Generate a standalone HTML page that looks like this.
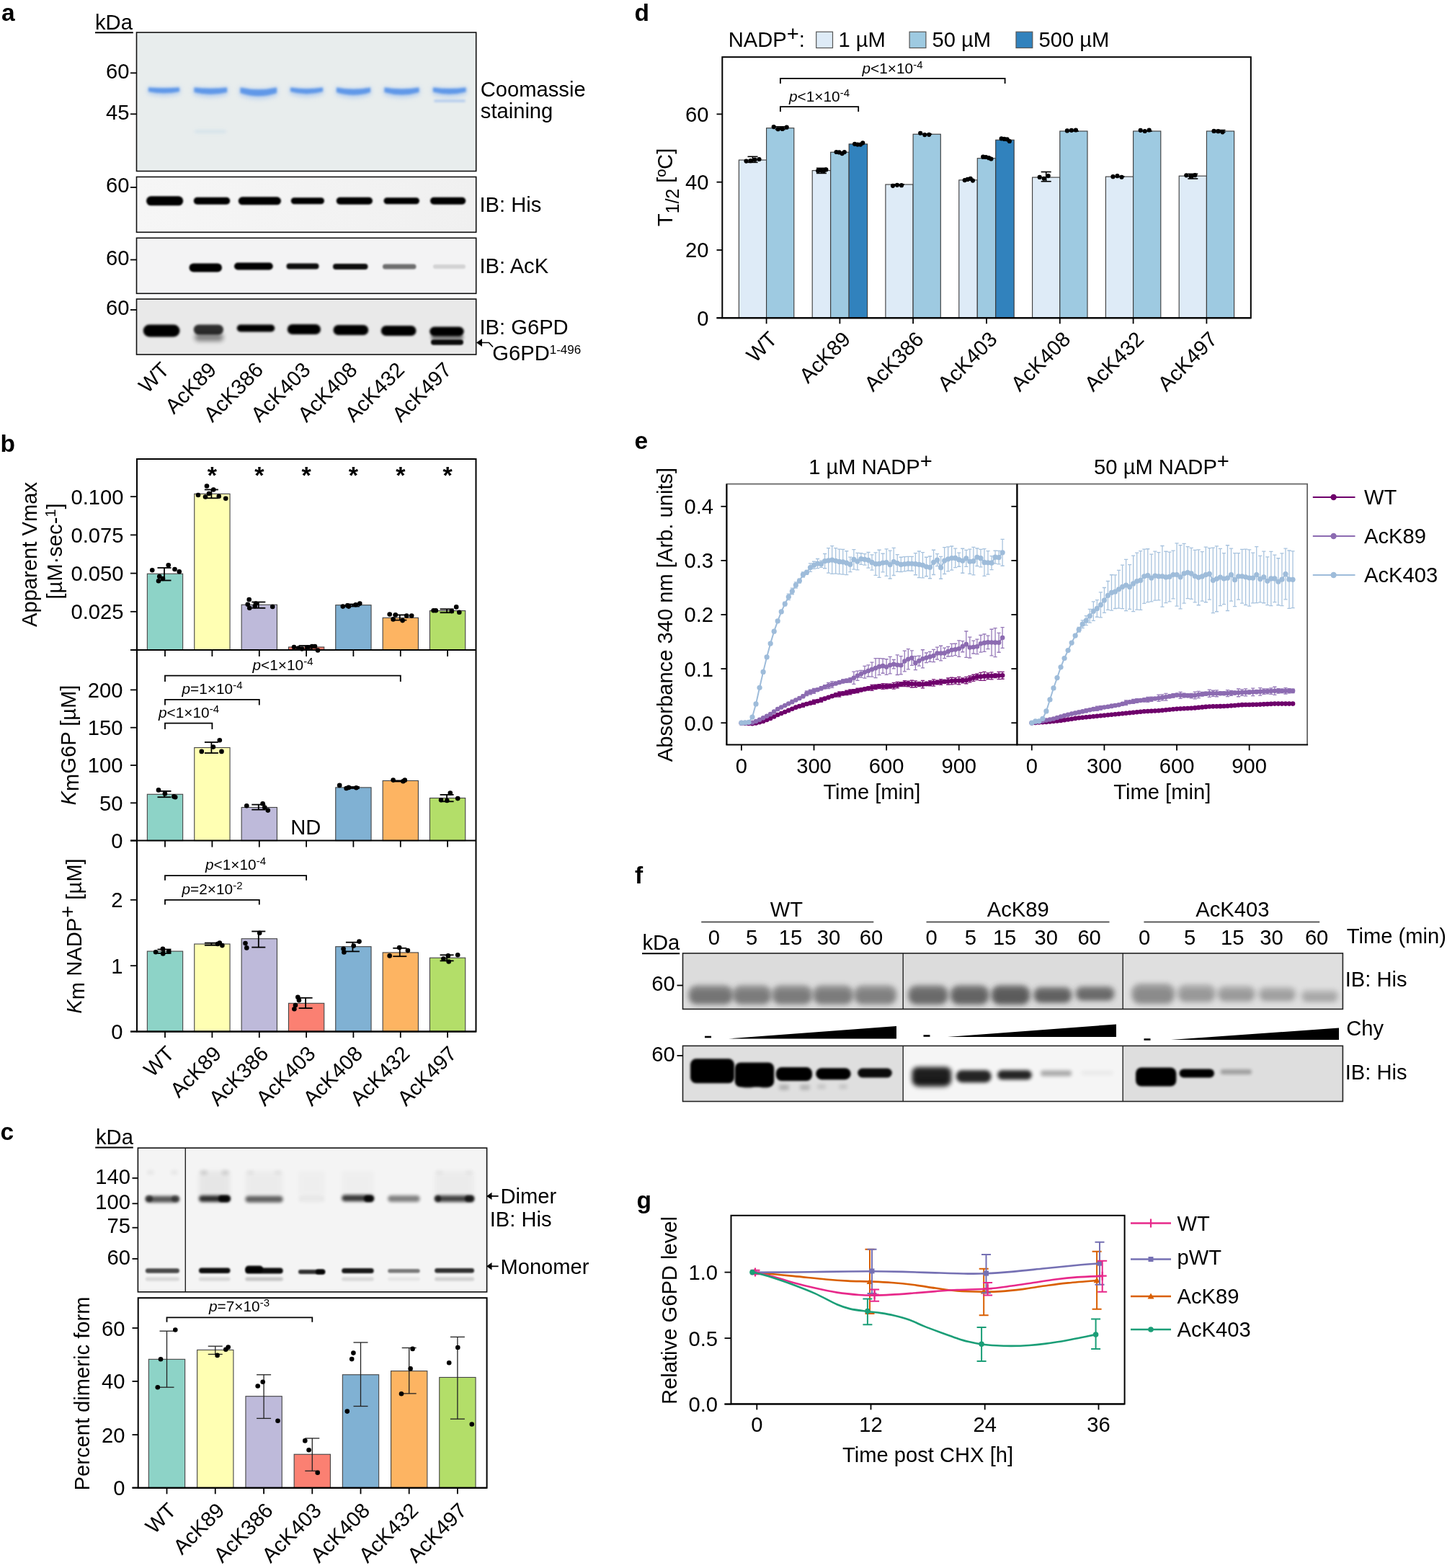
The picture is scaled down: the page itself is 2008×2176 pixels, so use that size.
<!DOCTYPE html>
<html><head><meta charset="utf-8"><style>
html,body{margin:0;padding:0;background:#fff;}
svg{display:block;}
text{font-family:'Liberation Sans', Arial, Helvetica, sans-serif;}
</style></head><body>
<svg width="2008" height="2176" viewBox="0 0 2008 2176">
<defs><filter id="b12" x="-50%" y="-300%" width="200%" height="700%"><feGaussianBlur stdDeviation="1.2"/></filter><filter id="b13" x="-50%" y="-300%" width="200%" height="700%"><feGaussianBlur stdDeviation="1.3"/></filter><filter id="b14" x="-50%" y="-300%" width="200%" height="700%"><feGaussianBlur stdDeviation="1.4"/></filter><filter id="b15" x="-50%" y="-300%" width="200%" height="700%"><feGaussianBlur stdDeviation="1.5"/></filter><filter id="b16" x="-50%" y="-300%" width="200%" height="700%"><feGaussianBlur stdDeviation="1.6"/></filter><filter id="b18" x="-50%" y="-300%" width="200%" height="700%"><feGaussianBlur stdDeviation="1.8"/></filter><filter id="b20" x="-50%" y="-300%" width="200%" height="700%"><feGaussianBlur stdDeviation="2.0"/></filter><filter id="b22" x="-50%" y="-300%" width="200%" height="700%"><feGaussianBlur stdDeviation="2.2"/></filter><filter id="b25" x="-50%" y="-300%" width="200%" height="700%"><feGaussianBlur stdDeviation="2.5"/></filter><filter id="b28" x="-50%" y="-300%" width="200%" height="700%"><feGaussianBlur stdDeviation="2.8"/></filter><filter id="b30" x="-50%" y="-300%" width="200%" height="700%"><feGaussianBlur stdDeviation="3.0"/></filter><filter id="b32" x="-50%" y="-300%" width="200%" height="700%"><feGaussianBlur stdDeviation="3.2"/></filter><filter id="b35" x="-50%" y="-300%" width="200%" height="700%"><feGaussianBlur stdDeviation="3.5"/></filter><filter id="b40" x="-50%" y="-300%" width="200%" height="700%"><feGaussianBlur stdDeviation="4.0"/></filter><linearGradient id="gHis" x1="0" y1="0" x2="1" y2="0"><stop offset="0" stop-color="#f6f6f6"/><stop offset="1" stop-color="#f0f0f0"/></linearGradient></defs>
<text x="2.00" y="28.70" font-size="33.5" font-weight="bold">a</text>
<text x="132.00" y="40.80" font-size="29.17">kDa</text>
<line x1="132.00" y1="45.20" x2="184.80" y2="45.20" stroke="#000" stroke-width="1.9"/>
<rect x="189.50" y="45.00" width="471.20" height="192.50" fill="#e8eded"/>
<path d="M205.0,120.5 Q227.5,123.0 250.0,120.5 L250.0,130.0 Q227.5,136.5 205.0,130.0 Z" fill="#8fb6ee" opacity="0.55" filter="url(#b30)"/>
<path d="M206.0,121.5 Q227.5,123.0 249.0,121.5 L249.0,127.0 Q227.5,131.5 206.0,127.0 Z" fill="#5b95e8" opacity="0.95" filter="url(#b15)"/>
<path d="M268.5,120.5 Q292.2,124.0 316.0,120.5 L316.0,131.0 Q292.2,138.5 268.5,131.0 Z" fill="#8fb6ee" opacity="0.55" filter="url(#b30)"/>
<path d="M269.5,121.5 Q292.2,124.0 315.0,121.5 L315.0,128.0 Q292.2,133.5 269.5,128.0 Z" fill="#5b95e8" opacity="0.95" filter="url(#b15)"/>
<path d="M332.5,120.5 Q358.8,127.0 385.0,120.5 L385.0,132.0 Q358.8,142.5 332.5,132.0 Z" fill="#8fb6ee" opacity="0.55" filter="url(#b30)"/>
<path d="M333.5,121.5 Q358.8,127.0 384.0,121.5 L384.0,129.0 Q358.8,137.5 333.5,129.0 Z" fill="#5b95e8" opacity="0.95" filter="url(#b15)"/>
<path d="M402.0,120.5 Q425.5,125.0 449.0,120.5 L449.0,130.0 Q425.5,138.5 402.0,130.0 Z" fill="#8fb6ee" opacity="0.55" filter="url(#b30)"/>
<path d="M403.0,121.5 Q425.5,125.0 448.0,121.5 L448.0,127.0 Q425.5,133.5 403.0,127.0 Z" fill="#5b95e8" opacity="0.95" filter="url(#b15)"/>
<path d="M466.0,120.5 Q490.5,126.0 515.0,120.5 L515.0,131.0 Q490.5,140.5 466.0,131.0 Z" fill="#8fb6ee" opacity="0.55" filter="url(#b30)"/>
<path d="M467.0,121.5 Q490.5,126.0 514.0,121.5 L514.0,128.0 Q490.5,135.5 467.0,128.0 Z" fill="#5b95e8" opacity="0.95" filter="url(#b15)"/>
<path d="M532.5,120.5 Q557.5,125.5 582.5,120.5 L582.5,131.0 Q557.5,140.0 532.5,131.0 Z" fill="#8fb6ee" opacity="0.55" filter="url(#b30)"/>
<path d="M533.5,121.5 Q557.5,125.5 581.5,121.5 L581.5,128.0 Q557.5,135.0 533.5,128.0 Z" fill="#5b95e8" opacity="0.95" filter="url(#b15)"/>
<path d="M600.0,120.5 Q623.8,124.5 647.5,120.5 L647.5,130.5 Q623.8,138.5 600.0,130.5 Z" fill="#8fb6ee" opacity="0.55" filter="url(#b30)"/>
<path d="M601.0,121.5 Q623.8,124.5 646.5,121.5 L646.5,127.5 Q623.8,133.5 601.0,127.5 Z" fill="#5b95e8" opacity="0.95" filter="url(#b15)"/>
<rect x="602.00" y="138.00" width="44.00" height="4.00" rx="2.00" fill="#9bbcee" opacity="0.6" filter="url(#b15)"/>
<rect x="270.00" y="180.50" width="44.00" height="4.00" rx="2.00" fill="#c5dbe9" opacity="0.6" filter="url(#b20)"/>
<rect x="189.50" y="45.00" width="471.20" height="192.50" fill="none" stroke="#111" stroke-width="1.6"/>
<text x="179.50" y="108.70" font-size="29.17" text-anchor="end">60</text>
<line x1="181.00" y1="101.30" x2="189.50" y2="101.30" stroke="#000" stroke-width="1.8"/>
<text x="179.50" y="165.70" font-size="29.17" text-anchor="end">45</text>
<line x1="181.00" y1="158.30" x2="189.50" y2="158.30" stroke="#000" stroke-width="1.8"/>
<text x="666.80" y="134.20" font-size="29.17">Coomassie</text>
<text x="666.80" y="163.80" font-size="29.17">staining</text>
<rect x="189.5" y="245.5" width="471.2" height="76.8" fill="url(#gHis)"/>
<rect x="203.00" y="272.30" width="51.25" height="13.00" rx="6.50" fill="#000" opacity="1.0" filter="url(#b12)"/>
<rect x="268.75" y="273.80" width="50.50" height="10.00" rx="5.00" fill="#000" opacity="1.0" filter="url(#b12)"/>
<rect x="330.75" y="273.30" width="59.25" height="11.00" rx="5.50" fill="#000" opacity="1.0" filter="url(#b12)"/>
<rect x="403.75" y="274.30" width="46.25" height="9.00" rx="4.50" fill="#000" opacity="1.0" filter="url(#b12)"/>
<rect x="466.75" y="273.80" width="50.25" height="10.00" rx="5.00" fill="#000" opacity="1.0" filter="url(#b12)"/>
<rect x="532.50" y="274.30" width="49.50" height="9.00" rx="4.50" fill="#000" opacity="1.0" filter="url(#b12)"/>
<rect x="597.00" y="273.80" width="49.25" height="10.00" rx="5.00" fill="#000" opacity="1.0" filter="url(#b12)"/>
<rect x="189.50" y="245.50" width="471.20" height="76.80" fill="none" stroke="#111" stroke-width="1.6"/>
<text x="179.50" y="267.40" font-size="29.17" text-anchor="end">60</text>
<line x1="181.00" y1="260.00" x2="189.50" y2="260.00" stroke="#000" stroke-width="1.8"/>
<text x="665.50" y="294.30" font-size="29.17">IB: His</text>
<rect x="189.50" y="330.30" width="471.20" height="77.00" fill="#f3f3f4"/>
<rect x="262.50" y="365.50" width="45.50" height="12.00" rx="6.00" fill="#000" opacity="1.0" filter="url(#b13)"/>
<rect x="325.00" y="364.50" width="53.75" height="10.00" rx="5.00" fill="#000" opacity="1.0" filter="url(#b13)"/>
<rect x="397.50" y="365.50" width="45.00" height="8.00" rx="4.00" fill="#000" opacity="0.95" filter="url(#b13)"/>
<rect x="462.00" y="366.00" width="48.50" height="8.00" rx="4.00" fill="#000" opacity="0.95" filter="url(#b13)"/>
<rect x="531.00" y="366.50" width="46.50" height="7.00" rx="3.50" fill="#000" opacity="0.55" filter="url(#b13)"/>
<rect x="601.00" y="367.00" width="45.00" height="6.00" rx="3.00" fill="#000" opacity="0.13" filter="url(#b13)"/>
<rect x="189.50" y="330.30" width="471.20" height="77.00" fill="none" stroke="#111" stroke-width="1.6"/>
<text x="179.50" y="367.90" font-size="29.17" text-anchor="end">60</text>
<line x1="181.00" y1="360.50" x2="189.50" y2="360.50" stroke="#000" stroke-width="1.8"/>
<text x="665.50" y="379.30" font-size="29.17">IB: AcK</text>
<rect x="189.50" y="415.00" width="471.20" height="77.00" fill="#e9e9e9"/>
<rect x="198.75" y="450.50" width="50.75" height="17.00" rx="8.50" fill="#000" opacity="1.0" filter="url(#b15)"/>
<rect x="268.75" y="450.50" width="41.25" height="14.00" rx="7.00" fill="#000" opacity="0.8" filter="url(#b15)"/>
<rect x="328.75" y="450.50" width="52.50" height="10.00" rx="5.00" fill="#000" opacity="1.0" filter="url(#b15)"/>
<rect x="398.75" y="450.00" width="46.25" height="14.00" rx="7.00" fill="#000" opacity="1.0" filter="url(#b15)"/>
<rect x="462.50" y="451.00" width="48.75" height="14.00" rx="7.00" fill="#000" opacity="1.0" filter="url(#b15)"/>
<rect x="528.75" y="452.00" width="48.75" height="14.00" rx="7.00" fill="#000" opacity="1.0" filter="url(#b15)"/>
<rect x="596.25" y="453.50" width="47.50" height="13.00" rx="6.50" fill="#000" opacity="1.0" filter="url(#b15)"/>
<rect x="270.00" y="462.50" width="40.00" height="11.00" rx="5.50" fill="#000" opacity="0.45" filter="url(#b30)"/>
<rect x="598.00" y="471.25" width="45.00" height="7.50" rx="3.75" fill="#000" opacity="0.95" filter="url(#b12)"/>
<rect x="598.00" y="464.00" width="45.00" height="8.00" rx="4.00" fill="#000" opacity="0.45" filter="url(#b20)"/>
<rect x="189.50" y="415.00" width="471.20" height="77.00" fill="none" stroke="#111" stroke-width="1.6"/>
<text x="179.50" y="437.40" font-size="29.17" text-anchor="end">60</text>
<line x1="181.00" y1="430.00" x2="189.50" y2="430.00" stroke="#000" stroke-width="1.8"/>
<text x="665.50" y="464.20" font-size="29.17">IB: G6PD</text>
<text x="683.30" y="500.40" font-size="29.17">G6PD<tspan font-size="17" dy="-9.8">1-496</tspan></text>
<path d="M667,475.5 H678.5 L684,481.5" stroke="#000" stroke-width="1.7" fill="none"/>
<path d="M661,475.5 L669,470.1 L669,480.9 Z" fill="#000"/>
<text x="236.50" y="515.00" font-size="29.17" text-anchor="end" transform="rotate(-45 236.50 515.00)">WT</text>
<text x="302.00" y="515.00" font-size="29.17" text-anchor="end" transform="rotate(-45 302.00 515.00)">AcK89</text>
<text x="367.00" y="515.00" font-size="29.17" text-anchor="end" transform="rotate(-45 367.00 515.00)">AcK386</text>
<text x="432.50" y="515.00" font-size="29.17" text-anchor="end" transform="rotate(-45 432.50 515.00)">AcK403</text>
<text x="497.50" y="515.00" font-size="29.17" text-anchor="end" transform="rotate(-45 497.50 515.00)">AcK408</text>
<text x="563.00" y="515.00" font-size="29.17" text-anchor="end" transform="rotate(-45 563.00 515.00)">AcK432</text>
<text x="628.50" y="515.00" font-size="29.17" text-anchor="end" transform="rotate(-45 628.50 515.00)">AcK497</text>
<text x="0.50" y="627.30" font-size="33.5" font-weight="bold">b</text>
<rect x="204.35" y="796.24" width="49.30" height="105.76" fill="#8dd3c7" stroke="#444" stroke-width="1.1"/>
<rect x="269.75" y="685.37" width="49.30" height="216.63" fill="#ffffb3" stroke="#444" stroke-width="1.1"/>
<rect x="335.15" y="839.22" width="49.30" height="62.78" fill="#bebada" stroke="#444" stroke-width="1.1"/>
<rect x="400.45" y="897.96" width="49.30" height="4.04" fill="#fb8072" stroke="#444" stroke-width="1.1"/>
<rect x="465.75" y="839.65" width="49.30" height="62.35" fill="#80b1d3" stroke="#444" stroke-width="1.1"/>
<rect x="531.15" y="857.31" width="49.30" height="44.69" fill="#fdb462" stroke="#444" stroke-width="1.1"/>
<rect x="596.45" y="847.52" width="49.30" height="54.48" fill="#b3de69" stroke="#444" stroke-width="1.1"/>
<line x1="228.00" y1="788.00" x2="228.00" y2="805.50" stroke="#000" stroke-width="1.8"/>
<line x1="218.50" y1="788.00" x2="237.50" y2="788.00" stroke="#000" stroke-width="1.8"/>
<line x1="218.50" y1="805.50" x2="237.50" y2="805.50" stroke="#000" stroke-width="1.8"/>
<line x1="293.40" y1="679.50" x2="293.40" y2="691.30" stroke="#000" stroke-width="1.8"/>
<line x1="283.90" y1="679.50" x2="302.90" y2="679.50" stroke="#000" stroke-width="1.8"/>
<line x1="283.90" y1="691.30" x2="302.90" y2="691.30" stroke="#000" stroke-width="1.8"/>
<line x1="358.80" y1="835.50" x2="358.80" y2="843.80" stroke="#000" stroke-width="1.8"/>
<line x1="349.30" y1="835.50" x2="368.30" y2="835.50" stroke="#000" stroke-width="1.8"/>
<line x1="349.30" y1="843.80" x2="368.30" y2="843.80" stroke="#000" stroke-width="1.8"/>
<line x1="424.10" y1="896.00" x2="424.10" y2="901.00" stroke="#000" stroke-width="1.8"/>
<line x1="414.60" y1="896.00" x2="433.60" y2="896.00" stroke="#000" stroke-width="1.8"/>
<line x1="414.60" y1="901.00" x2="433.60" y2="901.00" stroke="#000" stroke-width="1.8"/>
<line x1="489.40" y1="838.50" x2="489.40" y2="841.50" stroke="#000" stroke-width="1.8"/>
<line x1="479.90" y1="838.50" x2="498.90" y2="838.50" stroke="#000" stroke-width="1.8"/>
<line x1="479.90" y1="841.50" x2="498.90" y2="841.50" stroke="#000" stroke-width="1.8"/>
<line x1="554.80" y1="853.40" x2="554.80" y2="860.60" stroke="#000" stroke-width="1.8"/>
<line x1="545.30" y1="853.40" x2="564.30" y2="853.40" stroke="#000" stroke-width="1.8"/>
<line x1="545.30" y1="860.60" x2="564.30" y2="860.60" stroke="#000" stroke-width="1.8"/>
<line x1="620.10" y1="845.30" x2="620.10" y2="850.20" stroke="#000" stroke-width="1.8"/>
<line x1="610.60" y1="845.30" x2="629.60" y2="845.30" stroke="#000" stroke-width="1.8"/>
<line x1="610.60" y1="850.20" x2="629.60" y2="850.20" stroke="#000" stroke-width="1.8"/>
<circle cx="211.25" cy="791.25" r="3.3" fill="#000"/>
<circle cx="221.25" cy="800.00" r="3.3" fill="#000"/>
<circle cx="220.00" cy="806.25" r="3.3" fill="#000"/>
<circle cx="226.00" cy="803.00" r="3.3" fill="#000"/>
<circle cx="233.75" cy="784.25" r="3.3" fill="#000"/>
<circle cx="242.50" cy="790.00" r="3.3" fill="#000"/>
<circle cx="248.75" cy="793.25" r="3.3" fill="#000"/>
<circle cx="275.00" cy="687.00" r="3.3" fill="#000"/>
<circle cx="285.00" cy="689.50" r="3.3" fill="#000"/>
<circle cx="287.00" cy="674.50" r="3.3" fill="#000"/>
<circle cx="290.00" cy="685.00" r="3.3" fill="#000"/>
<circle cx="296.25" cy="679.50" r="3.3" fill="#000"/>
<circle cx="303.75" cy="688.75" r="3.3" fill="#000"/>
<circle cx="313.25" cy="691.75" r="3.3" fill="#000"/>
<circle cx="345.75" cy="832.00" r="3.3" fill="#000"/>
<circle cx="343.75" cy="838.75" r="3.3" fill="#000"/>
<circle cx="346.25" cy="843.75" r="3.3" fill="#000"/>
<circle cx="353.75" cy="841.25" r="3.3" fill="#000"/>
<circle cx="355.00" cy="837.50" r="3.3" fill="#000"/>
<circle cx="378.25" cy="842.00" r="3.3" fill="#000"/>
<circle cx="408.00" cy="898.00" r="3.3" fill="#000"/>
<circle cx="414.00" cy="899.50" r="3.3" fill="#000"/>
<circle cx="419.00" cy="900.50" r="3.3" fill="#000"/>
<circle cx="427.00" cy="898.50" r="3.3" fill="#000"/>
<circle cx="433.00" cy="897.00" r="3.3" fill="#000"/>
<circle cx="437.00" cy="897.00" r="3.3" fill="#000"/>
<circle cx="441.00" cy="902.50" r="3.3" fill="#000"/>
<circle cx="475.80" cy="841.60" r="3.3" fill="#000"/>
<circle cx="482.30" cy="840.40" r="3.3" fill="#000"/>
<circle cx="483.90" cy="841.60" r="3.3" fill="#000"/>
<circle cx="493.60" cy="839.20" r="3.3" fill="#000"/>
<circle cx="499.30" cy="837.60" r="3.3" fill="#000"/>
<circle cx="540.70" cy="852.50" r="3.3" fill="#000"/>
<circle cx="548.80" cy="853.40" r="3.3" fill="#000"/>
<circle cx="545.60" cy="859.40" r="3.3" fill="#000"/>
<circle cx="558.60" cy="861.10" r="3.3" fill="#000"/>
<circle cx="564.30" cy="854.60" r="3.3" fill="#000"/>
<circle cx="571.20" cy="854.60" r="3.3" fill="#000"/>
<circle cx="601.60" cy="847.30" r="3.3" fill="#000"/>
<circle cx="604.80" cy="847.30" r="3.3" fill="#000"/>
<circle cx="633.20" cy="842.40" r="3.3" fill="#000"/>
<circle cx="637.30" cy="849.70" r="3.3" fill="#000"/>
<circle cx="626.80" cy="848.10" r="3.3" fill="#000"/>
<text x="171.50" y="699.80" font-size="29.17" text-anchor="end">0.100</text>
<line x1="181.00" y1="689.20" x2="190.00" y2="689.20" stroke="#000" stroke-width="1.8"/>
<text x="171.50" y="753.00" font-size="29.17" text-anchor="end">0.075</text>
<line x1="181.00" y1="742.40" x2="190.00" y2="742.40" stroke="#000" stroke-width="1.8"/>
<text x="171.50" y="806.20" font-size="29.17" text-anchor="end">0.050</text>
<line x1="181.00" y1="795.60" x2="190.00" y2="795.60" stroke="#000" stroke-width="1.8"/>
<text x="171.50" y="859.40" font-size="29.17" text-anchor="end">0.025</text>
<line x1="181.00" y1="848.80" x2="190.00" y2="848.80" stroke="#000" stroke-width="1.8"/>
<line x1="181.00" y1="902.00" x2="660.50" y2="902.00" stroke="#000" stroke-width="2"/>
<text x="294.40" y="670.50" font-size="34" text-anchor="middle" font-weight="bold">*</text>
<text x="359.80" y="670.50" font-size="34" text-anchor="middle" font-weight="bold">*</text>
<text x="425.10" y="670.50" font-size="34" text-anchor="middle" font-weight="bold">*</text>
<text x="490.40" y="670.50" font-size="34" text-anchor="middle" font-weight="bold">*</text>
<text x="555.80" y="670.50" font-size="34" text-anchor="middle" font-weight="bold">*</text>
<text x="621.10" y="670.50" font-size="34" text-anchor="middle" font-weight="bold">*</text>
<text x="51.00" y="769.50" font-size="29.17" text-anchor="middle" transform="rotate(-90 51.00 769.50)">Apparent Vmax</text>
<text x="86.00" y="765.00" font-size="29.17" text-anchor="middle" transform="rotate(-90 86.00 765.00)">[µM·sec-<tspan dy="-9" font-size="20">1</tspan><tspan dy="9">]</tspan></text>
<rect x="204.35" y="1102.27" width="49.30" height="64.33" fill="#8dd3c7" stroke="#444" stroke-width="1.1"/>
<rect x="269.75" y="1037.52" width="49.30" height="129.08" fill="#ffffb3" stroke="#444" stroke-width="1.1"/>
<rect x="335.15" y="1120.47" width="49.30" height="46.13" fill="#bebada" stroke="#444" stroke-width="1.1"/>
<rect x="465.75" y="1092.86" width="49.30" height="73.74" fill="#80b1d3" stroke="#444" stroke-width="1.1"/>
<rect x="531.15" y="1083.44" width="49.30" height="83.16" fill="#fdb462" stroke="#444" stroke-width="1.1"/>
<rect x="596.45" y="1107.50" width="49.30" height="59.10" fill="#b3de69" stroke="#444" stroke-width="1.1"/>
<line x1="228.00" y1="1097.90" x2="228.00" y2="1106.25" stroke="#000" stroke-width="1.8"/>
<line x1="218.50" y1="1097.90" x2="237.50" y2="1097.90" stroke="#000" stroke-width="1.8"/>
<line x1="218.50" y1="1106.25" x2="237.50" y2="1106.25" stroke="#000" stroke-width="1.8"/>
<line x1="293.40" y1="1030.00" x2="293.40" y2="1045.00" stroke="#000" stroke-width="1.8"/>
<line x1="283.90" y1="1030.00" x2="302.90" y2="1030.00" stroke="#000" stroke-width="1.8"/>
<line x1="283.90" y1="1045.00" x2="302.90" y2="1045.00" stroke="#000" stroke-width="1.8"/>
<line x1="358.80" y1="1116.60" x2="358.80" y2="1123.60" stroke="#000" stroke-width="1.8"/>
<line x1="349.30" y1="1116.60" x2="368.30" y2="1116.60" stroke="#000" stroke-width="1.8"/>
<line x1="349.30" y1="1123.60" x2="368.30" y2="1123.60" stroke="#000" stroke-width="1.8"/>
<line x1="489.40" y1="1092.00" x2="489.40" y2="1094.00" stroke="#000" stroke-width="1.8"/>
<line x1="479.90" y1="1092.00" x2="498.90" y2="1092.00" stroke="#000" stroke-width="1.8"/>
<line x1="479.90" y1="1094.00" x2="498.90" y2="1094.00" stroke="#000" stroke-width="1.8"/>
<line x1="554.80" y1="1083.40" x2="554.80" y2="1084.50" stroke="#000" stroke-width="1.8"/>
<line x1="545.30" y1="1083.40" x2="564.30" y2="1083.40" stroke="#000" stroke-width="1.8"/>
<line x1="545.30" y1="1084.50" x2="564.30" y2="1084.50" stroke="#000" stroke-width="1.8"/>
<line x1="620.10" y1="1102.90" x2="620.10" y2="1112.30" stroke="#000" stroke-width="1.8"/>
<line x1="610.60" y1="1102.90" x2="629.60" y2="1102.90" stroke="#000" stroke-width="1.8"/>
<line x1="610.60" y1="1112.30" x2="629.60" y2="1112.30" stroke="#000" stroke-width="1.8"/>
<circle cx="220.00" cy="1096.40" r="3.3" fill="#000"/>
<circle cx="228.90" cy="1101.40" r="3.3" fill="#000"/>
<circle cx="241.40" cy="1105.40" r="3.3" fill="#000"/>
<circle cx="243.20" cy="1106.25" r="3.3" fill="#000"/>
<circle cx="279.80" cy="1042.90" r="3.3" fill="#000"/>
<circle cx="295.90" cy="1036.60" r="3.3" fill="#000"/>
<circle cx="304.80" cy="1027.30" r="3.3" fill="#000"/>
<circle cx="307.50" cy="1042.90" r="3.3" fill="#000"/>
<circle cx="342.30" cy="1118.20" r="3.3" fill="#000"/>
<circle cx="364.60" cy="1115.20" r="3.3" fill="#000"/>
<circle cx="367.30" cy="1120.50" r="3.3" fill="#000"/>
<circle cx="371.80" cy="1124.60" r="3.3" fill="#000"/>
<circle cx="471.20" cy="1089.90" r="3.3" fill="#000"/>
<circle cx="480.60" cy="1094.00" r="3.3" fill="#000"/>
<circle cx="483.90" cy="1092.90" r="3.3" fill="#000"/>
<circle cx="494.40" cy="1093.20" r="3.3" fill="#000"/>
<circle cx="545.60" cy="1082.60" r="3.3" fill="#000"/>
<circle cx="559.40" cy="1084.30" r="3.3" fill="#000"/>
<circle cx="561.80" cy="1082.60" r="3.3" fill="#000"/>
<circle cx="612.10" cy="1110.20" r="3.3" fill="#000"/>
<circle cx="620.30" cy="1111.00" r="3.3" fill="#000"/>
<circle cx="624.80" cy="1100.50" r="3.3" fill="#000"/>
<circle cx="635.20" cy="1108.10" r="3.3" fill="#000"/>
<text x="170.50" y="967.80" font-size="29.17" text-anchor="end">200</text>
<line x1="181.00" y1="957.40" x2="190.00" y2="957.40" stroke="#000" stroke-width="1.8"/>
<text x="170.50" y="1020.10" font-size="29.17" text-anchor="end">150</text>
<line x1="181.00" y1="1009.70" x2="190.00" y2="1009.70" stroke="#000" stroke-width="1.8"/>
<text x="170.50" y="1072.40" font-size="29.17" text-anchor="end">100</text>
<line x1="181.00" y1="1062.00" x2="190.00" y2="1062.00" stroke="#000" stroke-width="1.8"/>
<text x="170.50" y="1124.70" font-size="29.17" text-anchor="end">50</text>
<line x1="181.00" y1="1114.30" x2="190.00" y2="1114.30" stroke="#000" stroke-width="1.8"/>
<text x="170.50" y="1177.00" font-size="29.17" text-anchor="end">0</text>
<line x1="181.00" y1="1166.60" x2="190.00" y2="1166.60" stroke="#000" stroke-width="1.8"/>
<line x1="181.00" y1="1166.60" x2="660.50" y2="1166.60" stroke="#000" stroke-width="2"/>
<line x1="229.00" y1="902.00" x2="229.00" y2="911.00" stroke="#000" stroke-width="1.8"/>
<line x1="294.40" y1="902.00" x2="294.40" y2="911.00" stroke="#000" stroke-width="1.8"/>
<line x1="359.80" y1="902.00" x2="359.80" y2="911.00" stroke="#000" stroke-width="1.8"/>
<line x1="425.10" y1="902.00" x2="425.10" y2="911.00" stroke="#000" stroke-width="1.8"/>
<line x1="490.40" y1="902.00" x2="490.40" y2="911.00" stroke="#000" stroke-width="1.8"/>
<line x1="555.80" y1="902.00" x2="555.80" y2="911.00" stroke="#000" stroke-width="1.8"/>
<line x1="621.10" y1="902.00" x2="621.10" y2="911.00" stroke="#000" stroke-width="1.8"/>
<text x="424.30" y="1157.80" font-size="29.17" text-anchor="middle">ND</text>
<path d="M229.00,1012.10 V1003.60 H294.40 V1012.10" fill="none" stroke="#000" stroke-width="1.8"/>
<text x="262.00" y="996.40" font-size="20.83" text-anchor="middle"><tspan font-style="italic">p</tspan>&lt;1×10<tspan dy="-7" font-size="15.0">-4</tspan></text>
<path d="M229.00,978.60 V970.90 H359.80 V978.60" fill="none" stroke="#000" stroke-width="1.8"/>
<text x="294.50" y="963.40" font-size="20.83" text-anchor="middle"><tspan font-style="italic">p</tspan>=1×10<tspan dy="-7" font-size="15.0">-4</tspan></text>
<path d="M229.00,946.10 V937.60 H555.80 V946.10" fill="none" stroke="#000" stroke-width="1.8"/>
<text x="392.50" y="930.40" font-size="20.83" text-anchor="middle"><tspan font-style="italic">p</tspan>&lt;1×10<tspan dy="-7" font-size="15.0">-4</tspan></text>
<text x="105.00" y="1034.00" font-size="29.17" text-anchor="middle" transform="rotate(-90 105.00 1034.00)"><tspan font-style="italic">K</tspan><tspan dy="4.3">m</tspan><tspan dy="-4.3">G6P [µM]</tspan></text>
<rect x="204.35" y="1320.09" width="49.30" height="111.51" fill="#8dd3c7" stroke="#444" stroke-width="1.1"/>
<rect x="269.75" y="1310.04" width="49.30" height="121.56" fill="#ffffb3" stroke="#444" stroke-width="1.1"/>
<rect x="335.15" y="1302.73" width="49.30" height="128.87" fill="#bebada" stroke="#444" stroke-width="1.1"/>
<rect x="400.45" y="1392.30" width="49.30" height="39.30" fill="#fb8072" stroke="#444" stroke-width="1.1"/>
<rect x="465.75" y="1313.69" width="49.30" height="117.91" fill="#80b1d3" stroke="#444" stroke-width="1.1"/>
<rect x="531.15" y="1321.92" width="49.30" height="109.68" fill="#fdb462" stroke="#444" stroke-width="1.1"/>
<rect x="596.45" y="1329.23" width="49.30" height="102.37" fill="#b3de69" stroke="#444" stroke-width="1.1"/>
<line x1="228.00" y1="1317.50" x2="228.00" y2="1322.90" stroke="#000" stroke-width="1.8"/>
<line x1="218.50" y1="1317.50" x2="237.50" y2="1317.50" stroke="#000" stroke-width="1.8"/>
<line x1="218.50" y1="1322.90" x2="237.50" y2="1322.90" stroke="#000" stroke-width="1.8"/>
<line x1="293.40" y1="1308.60" x2="293.40" y2="1311.80" stroke="#000" stroke-width="1.8"/>
<line x1="283.90" y1="1308.60" x2="302.90" y2="1308.60" stroke="#000" stroke-width="1.8"/>
<line x1="283.90" y1="1311.80" x2="302.90" y2="1311.80" stroke="#000" stroke-width="1.8"/>
<line x1="358.80" y1="1292.50" x2="358.80" y2="1314.60" stroke="#000" stroke-width="1.8"/>
<line x1="349.30" y1="1292.50" x2="368.30" y2="1292.50" stroke="#000" stroke-width="1.8"/>
<line x1="349.30" y1="1314.60" x2="368.30" y2="1314.60" stroke="#000" stroke-width="1.8"/>
<line x1="424.10" y1="1384.80" x2="424.10" y2="1399.10" stroke="#000" stroke-width="1.8"/>
<line x1="414.60" y1="1384.80" x2="433.60" y2="1384.80" stroke="#000" stroke-width="1.8"/>
<line x1="414.60" y1="1399.10" x2="433.60" y2="1399.10" stroke="#000" stroke-width="1.8"/>
<line x1="489.40" y1="1307.70" x2="489.40" y2="1320.40" stroke="#000" stroke-width="1.8"/>
<line x1="479.90" y1="1307.70" x2="498.90" y2="1307.70" stroke="#000" stroke-width="1.8"/>
<line x1="479.90" y1="1320.40" x2="498.90" y2="1320.40" stroke="#000" stroke-width="1.8"/>
<line x1="554.80" y1="1315.80" x2="554.80" y2="1327.20" stroke="#000" stroke-width="1.8"/>
<line x1="545.30" y1="1315.80" x2="564.30" y2="1315.80" stroke="#000" stroke-width="1.8"/>
<line x1="545.30" y1="1327.20" x2="564.30" y2="1327.20" stroke="#000" stroke-width="1.8"/>
<line x1="620.10" y1="1325.30" x2="620.10" y2="1333.40" stroke="#000" stroke-width="1.8"/>
<line x1="610.60" y1="1325.30" x2="629.60" y2="1325.30" stroke="#000" stroke-width="1.8"/>
<line x1="610.60" y1="1333.40" x2="629.60" y2="1333.40" stroke="#000" stroke-width="1.8"/>
<circle cx="216.10" cy="1321.30" r="3.3" fill="#000"/>
<circle cx="225.90" cy="1316.80" r="3.3" fill="#000"/>
<circle cx="226.25" cy="1323.40" r="3.3" fill="#000"/>
<circle cx="234.30" cy="1320.40" r="3.3" fill="#000"/>
<circle cx="302.10" cy="1310.00" r="3.3" fill="#000"/>
<circle cx="304.80" cy="1308.60" r="3.3" fill="#000"/>
<circle cx="308.40" cy="1312.10" r="3.3" fill="#000"/>
<circle cx="340.50" cy="1309.10" r="3.3" fill="#000"/>
<circle cx="342.30" cy="1315.40" r="3.3" fill="#000"/>
<circle cx="360.20" cy="1294.80" r="3.3" fill="#000"/>
<circle cx="413.30" cy="1383.70" r="3.3" fill="#000"/>
<circle cx="414.90" cy="1388.10" r="3.3" fill="#000"/>
<circle cx="410.00" cy="1395.10" r="3.3" fill="#000"/>
<circle cx="408.40" cy="1400.30" r="3.3" fill="#000"/>
<circle cx="476.60" cy="1316.70" r="3.3" fill="#000"/>
<circle cx="477.40" cy="1321.50" r="3.3" fill="#000"/>
<circle cx="490.70" cy="1312.60" r="3.3" fill="#000"/>
<circle cx="498.50" cy="1306.60" r="3.3" fill="#000"/>
<circle cx="540.70" cy="1326.40" r="3.3" fill="#000"/>
<circle cx="554.20" cy="1315.00" r="3.3" fill="#000"/>
<circle cx="565.90" cy="1319.10" r="3.3" fill="#000"/>
<circle cx="615.40" cy="1330.50" r="3.3" fill="#000"/>
<circle cx="621.90" cy="1326.40" r="3.3" fill="#000"/>
<circle cx="622.70" cy="1334.50" r="3.3" fill="#000"/>
<circle cx="635.20" cy="1325.30" r="3.3" fill="#000"/>
<text x="170.50" y="1259.20" font-size="29.17" text-anchor="end">2</text>
<line x1="181.00" y1="1248.80" x2="190.00" y2="1248.80" stroke="#000" stroke-width="1.8"/>
<text x="170.50" y="1350.60" font-size="29.17" text-anchor="end">1</text>
<line x1="181.00" y1="1340.20" x2="190.00" y2="1340.20" stroke="#000" stroke-width="1.8"/>
<text x="170.50" y="1442.00" font-size="29.17" text-anchor="end">0</text>
<line x1="181.00" y1="1431.60" x2="190.00" y2="1431.60" stroke="#000" stroke-width="1.8"/>
<line x1="181.00" y1="1431.60" x2="660.50" y2="1431.60" stroke="#000" stroke-width="2"/>
<line x1="229.00" y1="1166.60" x2="229.00" y2="1175.60" stroke="#000" stroke-width="1.8"/>
<line x1="294.40" y1="1166.60" x2="294.40" y2="1175.60" stroke="#000" stroke-width="1.8"/>
<line x1="359.80" y1="1166.60" x2="359.80" y2="1175.60" stroke="#000" stroke-width="1.8"/>
<line x1="425.10" y1="1166.60" x2="425.10" y2="1175.60" stroke="#000" stroke-width="1.8"/>
<line x1="490.40" y1="1166.60" x2="490.40" y2="1175.60" stroke="#000" stroke-width="1.8"/>
<line x1="555.80" y1="1166.60" x2="555.80" y2="1175.60" stroke="#000" stroke-width="1.8"/>
<line x1="621.10" y1="1166.60" x2="621.10" y2="1175.60" stroke="#000" stroke-width="1.8"/>
<line x1="229.00" y1="1431.60" x2="229.00" y2="1440.10" stroke="#000" stroke-width="1.8"/>
<line x1="294.40" y1="1431.60" x2="294.40" y2="1440.10" stroke="#000" stroke-width="1.8"/>
<line x1="359.80" y1="1431.60" x2="359.80" y2="1440.10" stroke="#000" stroke-width="1.8"/>
<line x1="425.10" y1="1431.60" x2="425.10" y2="1440.10" stroke="#000" stroke-width="1.8"/>
<line x1="490.40" y1="1431.60" x2="490.40" y2="1440.10" stroke="#000" stroke-width="1.8"/>
<line x1="555.80" y1="1431.60" x2="555.80" y2="1440.10" stroke="#000" stroke-width="1.8"/>
<line x1="621.10" y1="1431.60" x2="621.10" y2="1440.10" stroke="#000" stroke-width="1.8"/>
<path d="M229.00,1255.60 V1248.80 H359.80 V1255.60" fill="none" stroke="#000" stroke-width="1.8"/>
<text x="294.50" y="1241.30" font-size="20.83" text-anchor="middle"><tspan font-style="italic">p</tspan>=2×10<tspan dy="-7" font-size="15.0">-2</tspan></text>
<path d="M229.00,1221.70 V1215.10 H425.10 V1221.70" fill="none" stroke="#000" stroke-width="1.8"/>
<text x="327.00" y="1207.30" font-size="20.83" text-anchor="middle"><tspan font-style="italic">p</tspan>&lt;1×10<tspan dy="-7" font-size="15.0">-4</tspan></text>
<text x="112.50" y="1299.00" font-size="29.17" text-anchor="middle" transform="rotate(-90 112.50 1299.00)"><tspan font-style="italic">K</tspan><tspan dy="4.3">m</tspan><tspan dy="-4.3"> NADP</tspan><tspan dy="-8.6">+</tspan><tspan dy="8.6"> [µM]</tspan></text>
<rect x="190.00" y="637.00" width="470.50" height="794.60" fill="none" stroke="#000" stroke-width="2"/>
<text x="243.50" y="1464.00" font-size="29.17" text-anchor="end" transform="rotate(-45 243.50 1464.00)">WT</text>
<text x="308.90" y="1464.00" font-size="29.17" text-anchor="end" transform="rotate(-45 308.90 1464.00)">AcK89</text>
<text x="374.30" y="1464.00" font-size="29.17" text-anchor="end" transform="rotate(-45 374.30 1464.00)">AcK386</text>
<text x="439.60" y="1464.00" font-size="29.17" text-anchor="end" transform="rotate(-45 439.60 1464.00)">AcK403</text>
<text x="504.90" y="1464.00" font-size="29.17" text-anchor="end" transform="rotate(-45 504.90 1464.00)">AcK408</text>
<text x="570.30" y="1464.00" font-size="29.17" text-anchor="end" transform="rotate(-45 570.30 1464.00)">AcK432</text>
<text x="635.60" y="1464.00" font-size="29.17" text-anchor="end" transform="rotate(-45 635.60 1464.00)">AcK497</text>
<text x="0.50" y="1582.00" font-size="33.5" font-weight="bold">c</text>
<text x="133.00" y="1588.00" font-size="29.17">kDa</text>
<line x1="132.20" y1="1592.50" x2="184.80" y2="1592.50" stroke="#000" stroke-width="1.9"/>
<rect x="191.40" y="1593.10" width="484.20" height="199.80" fill="#f4f4f4"/>
<rect x="276" y="1625" width="43.5" height="36" fill="#000" opacity="0.05" filter="url(#b30)"/>
<rect x="340.4" y="1625" width="52.3" height="36" fill="#000" opacity="0.03" filter="url(#b30)"/>
<rect x="603" y="1625" width="55.0" height="36" fill="#000" opacity="0.03" filter="url(#b30)"/>
<rect x="474" y="1625" width="45.0" height="36" fill="#000" opacity="0.02" filter="url(#b30)"/>
<rect x="414" y="1625" width="37.0" height="36" fill="#000" opacity="0.02" filter="url(#b30)"/>
<rect x="203.90" y="1624.00" width="10.00" height="6.00" rx="3.00" fill="#000" opacity="0.06" filter="url(#b25)"/>
<rect x="236.90" y="1624.00" width="10.00" height="6.00" rx="3.00" fill="#000" opacity="0.06" filter="url(#b25)"/>
<rect x="278.00" y="1624.00" width="10.00" height="6.00" rx="3.00" fill="#000" opacity="0.12" filter="url(#b25)"/>
<rect x="307.50" y="1624.00" width="10.00" height="6.00" rx="3.00" fill="#000" opacity="0.12" filter="url(#b25)"/>
<rect x="342.40" y="1624.00" width="10.00" height="6.00" rx="3.00" fill="#000" opacity="0.05" filter="url(#b25)"/>
<rect x="380.70" y="1624.00" width="10.00" height="6.00" rx="3.00" fill="#000" opacity="0.05" filter="url(#b25)"/>
<rect x="605.00" y="1624.00" width="10.00" height="6.00" rx="3.00" fill="#000" opacity="0.04" filter="url(#b25)"/>
<rect x="646.00" y="1624.00" width="10.00" height="6.00" rx="3.00" fill="#000" opacity="0.04" filter="url(#b25)"/>
<rect x="201.90" y="1659.70" width="47.00" height="9.00" rx="4.50" fill="#000" opacity="0.6375" filter="url(#b20)"/>
<rect x="276.00" y="1659.00" width="43.50" height="9.00" rx="4.50" fill="#000" opacity="0.8075" filter="url(#b20)"/>
<rect x="340.40" y="1659.70" width="52.30" height="9.00" rx="4.50" fill="#000" opacity="0.595" filter="url(#b20)"/>
<rect x="414.00" y="1659.50" width="37.00" height="9.00" rx="4.50" fill="#000" opacity="0.0425" filter="url(#b20)"/>
<rect x="474.20" y="1658.20" width="44.50" height="9.00" rx="4.50" fill="#000" opacity="0.765" filter="url(#b20)"/>
<rect x="538.20" y="1659.00" width="44.50" height="9.00" rx="4.50" fill="#000" opacity="0.4675" filter="url(#b20)"/>
<rect x="603.20" y="1659.00" width="54.80" height="9.00" rx="4.50" fill="#000" opacity="0.7224999999999999" filter="url(#b20)"/>
<rect x="201.90" y="1659.00" width="10.10" height="9.00" rx="4.50" fill="#000" opacity="0.5" filter="url(#b14)"/>
<rect x="238.00" y="1659.00" width="10.90" height="9.00" rx="4.50" fill="#000" opacity="0.4" filter="url(#b14)"/>
<rect x="303.00" y="1659.00" width="16.50" height="9.00" rx="4.50" fill="#000" opacity="0.9" filter="url(#b14)"/>
<rect x="505.00" y="1659.00" width="13.70" height="9.00" rx="4.50" fill="#000" opacity="0.9" filter="url(#b14)"/>
<rect x="603.20" y="1659.00" width="8.80" height="9.00" rx="4.50" fill="#000" opacity="0.6" filter="url(#b14)"/>
<rect x="645.00" y="1659.00" width="13.00" height="9.00" rx="4.50" fill="#000" opacity="0.7" filter="url(#b14)"/>
<rect x="201.90" y="1760.25" width="47.00" height="6.50" rx="3.25" fill="#000" opacity="0.7" filter="url(#b13)"/>
<rect x="276.00" y="1759.45" width="43.50" height="7.50" rx="3.75" fill="#000" opacity="0.95" filter="url(#b13)"/>
<rect x="340.40" y="1759.50" width="52.30" height="8.00" rx="4.00" fill="#000" opacity="0.95" filter="url(#b13)"/>
<rect x="414.00" y="1762.00" width="37.00" height="6.00" rx="3.00" fill="#000" opacity="0.8" filter="url(#b13)"/>
<rect x="474.20" y="1759.90" width="44.50" height="7.00" rx="3.50" fill="#000" opacity="0.9" filter="url(#b13)"/>
<rect x="538.20" y="1761.05" width="44.50" height="5.50" rx="2.75" fill="#000" opacity="0.5" filter="url(#b13)"/>
<rect x="603.20" y="1759.95" width="54.80" height="6.50" rx="3.25" fill="#000" opacity="0.8" filter="url(#b13)"/>
<rect x="340.40" y="1756.50" width="24.60" height="9.00" rx="4.50" fill="#000" opacity="0.95" filter="url(#b13)"/>
<rect x="438.00" y="1761.50" width="13.00" height="7.00" rx="3.50" fill="#000" opacity="0.9" filter="url(#b13)"/>
<rect x="201.90" y="1772.50" width="47.00" height="5.00" rx="2.50" fill="#000" opacity="0.12" filter="url(#b18)"/>
<rect x="276.00" y="1772.50" width="43.50" height="5.00" rx="2.50" fill="#000" opacity="0.12" filter="url(#b18)"/>
<rect x="340.40" y="1772.50" width="52.30" height="5.00" rx="2.50" fill="#000" opacity="0.2" filter="url(#b18)"/>
<rect x="474.20" y="1772.50" width="44.50" height="5.00" rx="2.50" fill="#000" opacity="0.12" filter="url(#b18)"/>
<rect x="538.20" y="1772.50" width="44.50" height="5.00" rx="2.50" fill="#000" opacity="0.06" filter="url(#b18)"/>
<rect x="603.20" y="1772.50" width="54.80" height="5.00" rx="2.50" fill="#000" opacity="0.15" filter="url(#b18)"/>
<line x1="257.30" y1="1593.10" x2="257.30" y2="1792.90" stroke="#222" stroke-width="1.4"/>
<rect x="191.40" y="1593.10" width="484.20" height="199.80" fill="none" stroke="#111" stroke-width="1.6"/>
<text x="181.00" y="1642.50" font-size="29.17" text-anchor="end">140</text>
<line x1="183.50" y1="1634.90" x2="191.40" y2="1634.90" stroke="#000" stroke-width="1.8"/>
<text x="181.00" y="1677.90" font-size="29.17" text-anchor="end">100</text>
<line x1="183.50" y1="1670.30" x2="191.40" y2="1670.30" stroke="#000" stroke-width="1.8"/>
<text x="181.00" y="1711.30" font-size="29.17" text-anchor="end">75</text>
<line x1="183.50" y1="1703.70" x2="191.40" y2="1703.70" stroke="#000" stroke-width="1.8"/>
<text x="181.00" y="1754.50" font-size="29.17" text-anchor="end">60</text>
<line x1="183.50" y1="1746.90" x2="191.40" y2="1746.90" stroke="#000" stroke-width="1.8"/>
<path d="M675.2,1659.9 L682.5,1654.7 L682.5,1665.1 Z" fill="#000"/>
<line x1="681.00" y1="1659.90" x2="691.60" y2="1659.90" stroke="#000" stroke-width="1.8"/>
<text x="694.40" y="1670.30" font-size="29.17">Dimer</text>
<text x="679.70" y="1701.90" font-size="29.17">IB: His</text>
<path d="M675.2,1757.3 L682.5,1752.1 L682.5,1762.5 Z" fill="#000"/>
<line x1="681.00" y1="1757.30" x2="691.60" y2="1757.30" stroke="#000" stroke-width="1.8"/>
<text x="694.40" y="1767.90" font-size="29.17">Monomer</text>
<rect x="206.35" y="1886.33" width="50.30" height="178.47" fill="#8dd3c7" stroke="#444" stroke-width="1.1"/>
<rect x="273.60" y="1873.40" width="50.30" height="191.40" fill="#ffffb3" stroke="#444" stroke-width="1.1"/>
<rect x="340.95" y="1937.69" width="50.30" height="127.11" fill="#bebada" stroke="#444" stroke-width="1.1"/>
<rect x="408.15" y="2018.24" width="50.30" height="46.56" fill="#fb8072" stroke="#444" stroke-width="1.1"/>
<rect x="475.35" y="1907.76" width="50.30" height="157.04" fill="#80b1d3" stroke="#444" stroke-width="1.1"/>
<rect x="542.55" y="1902.59" width="50.30" height="162.21" fill="#fdb462" stroke="#444" stroke-width="1.1"/>
<rect x="609.75" y="1911.46" width="50.30" height="153.34" fill="#b3de69" stroke="#444" stroke-width="1.1"/>
<line x1="231.50" y1="1847.20" x2="231.50" y2="1925.20" stroke="#222" stroke-width="1.3"/>
<line x1="221.50" y1="1847.20" x2="241.50" y2="1847.20" stroke="#222" stroke-width="1.3"/>
<line x1="221.50" y1="1925.20" x2="241.50" y2="1925.20" stroke="#222" stroke-width="1.3"/>
<line x1="298.75" y1="1868.20" x2="298.75" y2="1879.40" stroke="#222" stroke-width="1.3"/>
<line x1="288.75" y1="1868.20" x2="308.75" y2="1868.20" stroke="#222" stroke-width="1.3"/>
<line x1="288.75" y1="1879.40" x2="308.75" y2="1879.40" stroke="#222" stroke-width="1.3"/>
<line x1="366.10" y1="1907.80" x2="366.10" y2="1968.40" stroke="#222" stroke-width="1.3"/>
<line x1="356.10" y1="1907.80" x2="376.10" y2="1907.80" stroke="#222" stroke-width="1.3"/>
<line x1="356.10" y1="1968.40" x2="376.10" y2="1968.40" stroke="#222" stroke-width="1.3"/>
<line x1="433.30" y1="1996.00" x2="433.30" y2="2041.30" stroke="#222" stroke-width="1.3"/>
<line x1="423.30" y1="1996.00" x2="443.30" y2="1996.00" stroke="#222" stroke-width="1.3"/>
<line x1="423.30" y1="2041.30" x2="443.30" y2="2041.30" stroke="#222" stroke-width="1.3"/>
<line x1="500.50" y1="1863.00" x2="500.50" y2="1951.50" stroke="#222" stroke-width="1.3"/>
<line x1="490.50" y1="1863.00" x2="510.50" y2="1863.00" stroke="#222" stroke-width="1.3"/>
<line x1="490.50" y1="1951.50" x2="510.50" y2="1951.50" stroke="#222" stroke-width="1.3"/>
<line x1="567.70" y1="1870.50" x2="567.70" y2="1933.90" stroke="#222" stroke-width="1.3"/>
<line x1="557.70" y1="1870.50" x2="577.70" y2="1870.50" stroke="#222" stroke-width="1.3"/>
<line x1="557.70" y1="1933.90" x2="577.70" y2="1933.90" stroke="#222" stroke-width="1.3"/>
<line x1="634.90" y1="1855.40" x2="634.90" y2="1969.20" stroke="#222" stroke-width="1.3"/>
<line x1="624.90" y1="1855.40" x2="644.90" y2="1855.40" stroke="#222" stroke-width="1.3"/>
<line x1="624.90" y1="1969.20" x2="644.90" y2="1969.20" stroke="#222" stroke-width="1.3"/>
<circle cx="243.30" cy="1845.50" r="3.3" fill="#000"/>
<circle cx="223.00" cy="1886.20" r="3.3" fill="#000"/>
<circle cx="218.80" cy="1925.20" r="3.3" fill="#000"/>
<circle cx="301.60" cy="1880.90" r="3.3" fill="#000"/>
<circle cx="313.30" cy="1872.80" r="3.3" fill="#000"/>
<circle cx="316.70" cy="1869.50" r="3.3" fill="#000"/>
<circle cx="357.70" cy="1923.50" r="3.3" fill="#000"/>
<circle cx="364.70" cy="1917.80" r="3.3" fill="#000"/>
<circle cx="385.50" cy="1971.80" r="3.3" fill="#000"/>
<circle cx="423.30" cy="1999.40" r="3.3" fill="#000"/>
<circle cx="428.60" cy="2012.30" r="3.3" fill="#000"/>
<circle cx="440.70" cy="2043.80" r="3.3" fill="#000"/>
<circle cx="490.40" cy="1877.60" r="3.3" fill="#000"/>
<circle cx="488.20" cy="1886.10" r="3.3" fill="#000"/>
<circle cx="481.80" cy="1958.60" r="3.3" fill="#000"/>
<circle cx="572.60" cy="1871.90" r="3.3" fill="#000"/>
<circle cx="569.60" cy="1899.40" r="3.3" fill="#000"/>
<circle cx="557.00" cy="1934.30" r="3.3" fill="#000"/>
<circle cx="635.30" cy="1870.00" r="3.3" fill="#000"/>
<circle cx="623.20" cy="1891.20" r="3.3" fill="#000"/>
<circle cx="654.80" cy="1976.50" r="3.3" fill="#000"/>
<text x="173.50" y="1853.50" font-size="29.17" text-anchor="end">60</text>
<line x1="183.50" y1="1843.00" x2="191.70" y2="1843.00" stroke="#000" stroke-width="1.8"/>
<text x="173.50" y="1927.40" font-size="29.17" text-anchor="end">40</text>
<line x1="183.50" y1="1916.90" x2="191.70" y2="1916.90" stroke="#000" stroke-width="1.8"/>
<text x="173.50" y="2001.60" font-size="29.17" text-anchor="end">20</text>
<line x1="183.50" y1="1991.10" x2="191.70" y2="1991.10" stroke="#000" stroke-width="1.8"/>
<text x="173.50" y="2075.10" font-size="29.17" text-anchor="end">0</text>
<line x1="183.50" y1="2064.60" x2="191.70" y2="2064.60" stroke="#000" stroke-width="1.8"/>
<line x1="183.50" y1="2064.80" x2="675.60" y2="2064.80" stroke="#000" stroke-width="2"/>
<line x1="231.50" y1="2064.80" x2="231.50" y2="2073.30" stroke="#000" stroke-width="1.8"/>
<line x1="298.75" y1="2064.80" x2="298.75" y2="2073.30" stroke="#000" stroke-width="1.8"/>
<line x1="366.10" y1="2064.80" x2="366.10" y2="2073.30" stroke="#000" stroke-width="1.8"/>
<line x1="433.30" y1="2064.80" x2="433.30" y2="2073.30" stroke="#000" stroke-width="1.8"/>
<line x1="500.50" y1="2064.80" x2="500.50" y2="2073.30" stroke="#000" stroke-width="1.8"/>
<line x1="567.70" y1="2064.80" x2="567.70" y2="2073.30" stroke="#000" stroke-width="1.8"/>
<line x1="634.90" y1="2064.80" x2="634.90" y2="2073.30" stroke="#000" stroke-width="1.8"/>
<rect x="191.70" y="1801.20" width="483.90" height="263.60" fill="none" stroke="#000" stroke-width="2"/>
<path d="M231.50,1834.80 V1828.30 H433.30 V1834.80" fill="none" stroke="#000" stroke-width="1.8"/>
<text x="332.00" y="1820.30" font-size="20.83" text-anchor="middle"><tspan font-style="italic">p</tspan>=7×10<tspan dy="-7" font-size="15.0">-3</tspan></text>
<text x="123.50" y="1934.00" font-size="29.17" text-anchor="middle" transform="rotate(-90 123.50 1934.00)">Percent dimeric form</text>
<text x="246.00" y="2098.00" font-size="29.17" text-anchor="end" transform="rotate(-45 246.00 2098.00)">WT</text>
<text x="313.25" y="2098.00" font-size="29.17" text-anchor="end" transform="rotate(-45 313.25 2098.00)">AcK89</text>
<text x="380.60" y="2098.00" font-size="29.17" text-anchor="end" transform="rotate(-45 380.60 2098.00)">AcK386</text>
<text x="447.80" y="2098.00" font-size="29.17" text-anchor="end" transform="rotate(-45 447.80 2098.00)">AcK403</text>
<text x="515.00" y="2098.00" font-size="29.17" text-anchor="end" transform="rotate(-45 515.00 2098.00)">AcK408</text>
<text x="582.20" y="2098.00" font-size="29.17" text-anchor="end" transform="rotate(-45 582.20 2098.00)">AcK432</text>
<text x="649.40" y="2098.00" font-size="29.17" text-anchor="end" transform="rotate(-45 649.40 2098.00)">AcK497</text>
<text x="880.50" y="28.60" font-size="33.5" font-weight="bold">d</text>
<text x="1010.70" y="65.20" font-size="29.17">NADP<tspan dy="-8.5">+</tspan><tspan dy="8.5">:</tspan></text>
<rect x="1132.70" y="44.20" width="22.80" height="22.30" fill="#deebf7" stroke="#555" stroke-width="1.2"/>
<text x="1163.50" y="65.20" font-size="29.17">1 µM</text>
<rect x="1262.10" y="44.20" width="22.80" height="22.30" fill="#9ecae1" stroke="#555" stroke-width="1.2"/>
<text x="1293.50" y="65.20" font-size="29.17">50 µM</text>
<rect x="1410.00" y="44.20" width="22.80" height="22.30" fill="#3182bd" stroke="#555" stroke-width="1.2"/>
<text x="1441.50" y="65.20" font-size="29.17">500 µM</text>
<rect x="1025.40" y="222.05" width="38.20" height="219.25" fill="#deebf7" stroke="#3a3a3a" stroke-width="1.1"/>
<line x1="1044.50" y1="225.35" x2="1044.50" y2="217.34" stroke="#000" stroke-width="1.6"/>
<line x1="1037.50" y1="225.35" x2="1051.50" y2="225.35" stroke="#000" stroke-width="1.6"/>
<line x1="1037.50" y1="217.34" x2="1051.50" y2="217.34" stroke="#000" stroke-width="1.6"/>
<circle cx="1035.50" cy="223.57" r="3.1" fill="#000"/>
<circle cx="1041.50" cy="223.19" r="3.1" fill="#000"/>
<circle cx="1047.50" cy="221.70" r="3.1" fill="#000"/>
<circle cx="1053.50" cy="220.99" r="3.1" fill="#000"/>
<rect x="1063.60" y="177.73" width="38.20" height="263.57" fill="#9ecae1" stroke="#3a3a3a" stroke-width="1.1"/>
<line x1="1082.70" y1="179.62" x2="1082.70" y2="175.85" stroke="#000" stroke-width="1.6"/>
<line x1="1075.70" y1="179.62" x2="1089.70" y2="179.62" stroke="#000" stroke-width="1.6"/>
<line x1="1075.70" y1="175.85" x2="1089.70" y2="175.85" stroke="#000" stroke-width="1.6"/>
<circle cx="1073.70" cy="176.12" r="3.1" fill="#000"/>
<circle cx="1079.70" cy="179.26" r="3.1" fill="#000"/>
<circle cx="1085.70" cy="178.89" r="3.1" fill="#000"/>
<circle cx="1091.70" cy="176.65" r="3.1" fill="#000"/>
<rect x="1127.20" y="236.67" width="25.47" height="204.63" fill="#deebf7" stroke="#3a3a3a" stroke-width="1.1"/>
<line x1="1139.93" y1="240.44" x2="1139.93" y2="233.37" stroke="#000" stroke-width="1.6"/>
<line x1="1132.93" y1="240.44" x2="1146.93" y2="240.44" stroke="#000" stroke-width="1.6"/>
<line x1="1132.93" y1="233.37" x2="1146.93" y2="233.37" stroke="#000" stroke-width="1.6"/>
<circle cx="1135.13" cy="236.98" r="3.1" fill="#000"/>
<circle cx="1139.13" cy="236.36" r="3.1" fill="#000"/>
<circle cx="1143.13" cy="237.01" r="3.1" fill="#000"/>
<circle cx="1146.33" cy="235.38" r="3.1" fill="#000"/>
<rect x="1152.67" y="211.21" width="25.47" height="230.09" fill="#9ecae1" stroke="#3a3a3a" stroke-width="1.1"/>
<line x1="1158.40" y1="211.21" x2="1172.40" y2="211.21" stroke="#000" stroke-width="1.6"/>
<circle cx="1160.60" cy="211.00" r="3.1" fill="#000"/>
<circle cx="1164.60" cy="211.47" r="3.1" fill="#000"/>
<circle cx="1168.60" cy="213.07" r="3.1" fill="#000"/>
<circle cx="1171.80" cy="211.06" r="3.1" fill="#000"/>
<rect x="1178.13" y="199.89" width="25.47" height="241.41" fill="#3182bd" stroke="#3a3a3a" stroke-width="1.1"/>
<line x1="1183.87" y1="199.89" x2="1197.87" y2="199.89" stroke="#000" stroke-width="1.6"/>
<circle cx="1186.07" cy="199.78" r="3.1" fill="#000"/>
<circle cx="1190.07" cy="200.58" r="3.1" fill="#000"/>
<circle cx="1194.07" cy="200.62" r="3.1" fill="#000"/>
<circle cx="1197.27" cy="198.32" r="3.1" fill="#000"/>
<rect x="1228.90" y="256.00" width="38.20" height="185.30" fill="#deebf7" stroke="#3a3a3a" stroke-width="1.1"/>
<line x1="1241.00" y1="256.00" x2="1255.00" y2="256.00" stroke="#000" stroke-width="1.6"/>
<circle cx="1239.00" cy="257.79" r="3.1" fill="#000"/>
<circle cx="1245.00" cy="256.82" r="3.1" fill="#000"/>
<circle cx="1251.00" cy="257.17" r="3.1" fill="#000"/>
<rect x="1267.10" y="186.22" width="38.20" height="255.08" fill="#9ecae1" stroke="#3a3a3a" stroke-width="1.1"/>
<line x1="1279.20" y1="186.22" x2="1293.20" y2="186.22" stroke="#000" stroke-width="1.6"/>
<circle cx="1277.20" cy="184.74" r="3.1" fill="#000"/>
<circle cx="1283.20" cy="187.05" r="3.1" fill="#000"/>
<circle cx="1289.20" cy="186.81" r="3.1" fill="#000"/>
<rect x="1330.80" y="249.87" width="25.47" height="191.43" fill="#deebf7" stroke="#3a3a3a" stroke-width="1.1"/>
<line x1="1336.53" y1="249.87" x2="1350.53" y2="249.87" stroke="#000" stroke-width="1.6"/>
<circle cx="1338.73" cy="250.04" r="3.1" fill="#000"/>
<circle cx="1342.73" cy="248.94" r="3.1" fill="#000"/>
<circle cx="1346.73" cy="247.80" r="3.1" fill="#000"/>
<circle cx="1349.93" cy="250.55" r="3.1" fill="#000"/>
<rect x="1356.27" y="219.70" width="25.47" height="221.60" fill="#9ecae1" stroke="#3a3a3a" stroke-width="1.1"/>
<line x1="1362.00" y1="219.70" x2="1376.00" y2="219.70" stroke="#000" stroke-width="1.6"/>
<circle cx="1364.20" cy="217.55" r="3.1" fill="#000"/>
<circle cx="1368.20" cy="217.99" r="3.1" fill="#000"/>
<circle cx="1372.20" cy="219.22" r="3.1" fill="#000"/>
<circle cx="1375.40" cy="220.50" r="3.1" fill="#000"/>
<rect x="1381.73" y="194.23" width="25.47" height="247.07" fill="#3182bd" stroke="#3a3a3a" stroke-width="1.1"/>
<line x1="1387.47" y1="194.23" x2="1401.47" y2="194.23" stroke="#000" stroke-width="1.6"/>
<circle cx="1389.67" cy="192.37" r="3.1" fill="#000"/>
<circle cx="1393.67" cy="192.97" r="3.1" fill="#000"/>
<circle cx="1397.67" cy="193.37" r="3.1" fill="#000"/>
<circle cx="1400.87" cy="195.99" r="3.1" fill="#000"/>
<rect x="1432.60" y="246.10" width="38.20" height="195.20" fill="#deebf7" stroke="#3a3a3a" stroke-width="1.1"/>
<line x1="1451.70" y1="251.76" x2="1451.70" y2="238.56" stroke="#000" stroke-width="1.6"/>
<line x1="1444.70" y1="251.76" x2="1458.70" y2="251.76" stroke="#000" stroke-width="1.6"/>
<line x1="1444.70" y1="238.56" x2="1458.70" y2="238.56" stroke="#000" stroke-width="1.6"/>
<circle cx="1442.70" cy="245.92" r="3.1" fill="#000"/>
<circle cx="1448.70" cy="247.76" r="3.1" fill="#000"/>
<circle cx="1454.70" cy="244.04" r="3.1" fill="#000"/>
<rect x="1470.80" y="181.98" width="38.20" height="259.32" fill="#9ecae1" stroke="#3a3a3a" stroke-width="1.1"/>
<line x1="1482.90" y1="181.98" x2="1496.90" y2="181.98" stroke="#000" stroke-width="1.6"/>
<circle cx="1480.90" cy="181.45" r="3.1" fill="#000"/>
<circle cx="1486.90" cy="180.79" r="3.1" fill="#000"/>
<circle cx="1492.90" cy="180.51" r="3.1" fill="#000"/>
<rect x="1534.40" y="245.16" width="38.20" height="196.14" fill="#deebf7" stroke="#3a3a3a" stroke-width="1.1"/>
<line x1="1546.50" y1="245.16" x2="1560.50" y2="245.16" stroke="#000" stroke-width="1.6"/>
<circle cx="1544.50" cy="245.15" r="3.1" fill="#000"/>
<circle cx="1550.50" cy="244.13" r="3.1" fill="#000"/>
<circle cx="1556.50" cy="245.76" r="3.1" fill="#000"/>
<rect x="1572.60" y="181.98" width="38.20" height="259.32" fill="#9ecae1" stroke="#3a3a3a" stroke-width="1.1"/>
<line x1="1584.70" y1="181.98" x2="1598.70" y2="181.98" stroke="#000" stroke-width="1.6"/>
<circle cx="1582.70" cy="180.85" r="3.1" fill="#000"/>
<circle cx="1588.70" cy="181.98" r="3.1" fill="#000"/>
<circle cx="1594.70" cy="180.49" r="3.1" fill="#000"/>
<rect x="1636.20" y="244.21" width="38.20" height="197.09" fill="#deebf7" stroke="#3a3a3a" stroke-width="1.1"/>
<line x1="1655.30" y1="247.99" x2="1655.30" y2="241.38" stroke="#000" stroke-width="1.6"/>
<line x1="1648.30" y1="247.99" x2="1662.30" y2="247.99" stroke="#000" stroke-width="1.6"/>
<line x1="1648.30" y1="241.38" x2="1662.30" y2="241.38" stroke="#000" stroke-width="1.6"/>
<circle cx="1646.30" cy="243.37" r="3.1" fill="#000"/>
<circle cx="1652.30" cy="244.56" r="3.1" fill="#000"/>
<circle cx="1658.30" cy="243.18" r="3.1" fill="#000"/>
<rect x="1674.40" y="181.98" width="38.20" height="259.32" fill="#9ecae1" stroke="#3a3a3a" stroke-width="1.1"/>
<line x1="1693.50" y1="183.39" x2="1693.50" y2="180.56" stroke="#000" stroke-width="1.6"/>
<line x1="1686.50" y1="183.39" x2="1700.50" y2="183.39" stroke="#000" stroke-width="1.6"/>
<line x1="1686.50" y1="180.56" x2="1700.50" y2="180.56" stroke="#000" stroke-width="1.6"/>
<circle cx="1684.50" cy="181.95" r="3.1" fill="#000"/>
<circle cx="1690.50" cy="182.22" r="3.1" fill="#000"/>
<circle cx="1696.50" cy="183.34" r="3.1" fill="#000"/>
<text x="983.50" y="451.60" font-size="29.17" text-anchor="end">0</text>
<line x1="994.50" y1="441.30" x2="1002.30" y2="441.30" stroke="#000" stroke-width="1.8"/>
<text x="983.50" y="357.30" font-size="29.17" text-anchor="end">20</text>
<line x1="994.50" y1="347.00" x2="1002.30" y2="347.00" stroke="#000" stroke-width="1.8"/>
<text x="983.50" y="263.00" font-size="29.17" text-anchor="end">40</text>
<line x1="994.50" y1="252.70" x2="1002.30" y2="252.70" stroke="#000" stroke-width="1.8"/>
<text x="983.50" y="168.70" font-size="29.17" text-anchor="end">60</text>
<line x1="994.50" y1="158.40" x2="1002.30" y2="158.40" stroke="#000" stroke-width="1.8"/>
<line x1="994.50" y1="441.30" x2="1735.80" y2="441.30" stroke="#000" stroke-width="2"/>
<line x1="1063.60" y1="441.30" x2="1063.60" y2="449.30" stroke="#000" stroke-width="1.8"/>
<line x1="1165.40" y1="441.30" x2="1165.40" y2="449.30" stroke="#000" stroke-width="1.8"/>
<line x1="1267.10" y1="441.30" x2="1267.10" y2="449.30" stroke="#000" stroke-width="1.8"/>
<line x1="1369.00" y1="441.30" x2="1369.00" y2="449.30" stroke="#000" stroke-width="1.8"/>
<line x1="1470.80" y1="441.30" x2="1470.80" y2="449.30" stroke="#000" stroke-width="1.8"/>
<line x1="1572.60" y1="441.30" x2="1572.60" y2="449.30" stroke="#000" stroke-width="1.8"/>
<line x1="1674.40" y1="441.30" x2="1674.40" y2="449.30" stroke="#000" stroke-width="1.8"/>
<rect x="1002.30" y="79.20" width="733.50" height="362.10" fill="none" stroke="#000" stroke-width="2"/>
<path d="M1082.90,155.00 V148.20 H1191.20 V155.00" fill="none" stroke="#000" stroke-width="1.8"/>
<text x="1137.00" y="140.70" font-size="20.83" text-anchor="middle"><tspan font-style="italic">p</tspan>&lt;1×10<tspan dy="-7" font-size="15.0">-4</tspan></text>
<path d="M1082.90,115.90 V108.90 H1394.60 V115.90" fill="none" stroke="#000" stroke-width="1.8"/>
<text x="1238.50" y="101.80" font-size="20.83" text-anchor="middle"><tspan font-style="italic">p</tspan>&lt;1×10<tspan dy="-7" font-size="15.0">-4</tspan></text>
<text x="932.70" y="260.00" font-size="29.17" text-anchor="middle" transform="rotate(-90 932.70 260.00)">T<tspan dy="9" font-size="25">1/2</tspan><tspan dy="-9"> [ºC]</tspan></text>
<text x="1080.10" y="472.50" font-size="29.17" text-anchor="end" transform="rotate(-45 1080.10 472.50)">WT</text>
<text x="1181.90" y="472.50" font-size="29.17" text-anchor="end" transform="rotate(-45 1181.90 472.50)">AcK89</text>
<text x="1283.60" y="472.50" font-size="29.17" text-anchor="end" transform="rotate(-45 1283.60 472.50)">AcK386</text>
<text x="1385.50" y="472.50" font-size="29.17" text-anchor="end" transform="rotate(-45 1385.50 472.50)">AcK403</text>
<text x="1487.30" y="472.50" font-size="29.17" text-anchor="end" transform="rotate(-45 1487.30 472.50)">AcK408</text>
<text x="1589.10" y="472.50" font-size="29.17" text-anchor="end" transform="rotate(-45 1589.10 472.50)">AcK432</text>
<text x="1690.90" y="472.50" font-size="29.17" text-anchor="end" transform="rotate(-45 1690.90 472.50)">AcK497</text>
<text x="880.50" y="622.50" font-size="33.5" font-weight="bold">e</text>
<path d="M1089.27,986.60V989.26M1086.67,986.60h5.2M1086.67,989.26h5.2M1094.30,983.92V987.80M1091.70,983.92h5.2M1091.70,987.80h5.2M1099.33,982.60V984.93M1096.73,982.60h5.2M1096.73,984.93h5.2M1104.37,980.27V983.06M1101.77,980.27h5.2M1101.77,983.06h5.2M1109.40,978.02V982.18M1106.80,978.02h5.2M1106.80,982.18h5.2M1114.43,975.86V981.24M1111.83,975.86h5.2M1111.83,981.24h5.2M1119.46,974.81V979.21M1116.86,974.81h5.2M1116.86,979.21h5.2M1124.49,973.69V977.64M1121.89,973.69h5.2M1121.89,977.64h5.2M1129.52,971.24V977.41M1126.92,971.24h5.2M1126.92,977.41h5.2M1134.55,971.51V974.46M1131.95,971.51h5.2M1131.95,974.46h5.2M1139.58,968.27V974.47M1136.98,968.27h5.2M1136.98,974.47h5.2M1144.61,967.52V971.70M1142.01,967.52h5.2M1142.01,971.70h5.2M1149.64,965.98V969.73M1147.04,965.98h5.2M1147.04,969.73h5.2M1154.68,964.20V967.98M1152.08,964.20h5.2M1152.08,967.98h5.2M1159.71,962.03V966.82M1157.11,962.03h5.2M1157.11,966.82h5.2M1164.74,959.80V967.03M1162.14,959.80h5.2M1162.14,967.03h5.2M1169.77,960.22V964.60M1167.17,960.22h5.2M1167.17,964.60h5.2M1174.80,958.20V964.61M1172.20,958.20h5.2M1172.20,964.61h5.2M1179.83,956.99V963.81M1177.23,956.99h5.2M1177.23,963.81h5.2M1184.86,956.58V962.20M1182.26,956.58h5.2M1182.26,962.20h5.2M1189.89,955.07V961.70M1187.29,955.07h5.2M1187.29,961.70h5.2M1194.92,955.27V959.49M1192.32,955.27h5.2M1192.32,959.49h5.2M1199.95,954.23V958.52M1197.35,954.23h5.2M1197.35,958.52h5.2M1204.99,952.79V957.94M1202.39,952.79h5.2M1202.39,957.94h5.2M1210.02,950.43V958.29M1207.42,950.43h5.2M1207.42,958.29h5.2M1215.05,950.07V956.64M1212.45,950.07h5.2M1212.45,956.64h5.2M1220.08,949.66V955.67M1217.48,949.66h5.2M1217.48,955.67h5.2M1225.11,948.71V956.28M1222.51,948.71h5.2M1222.51,956.28h5.2M1230.14,948.91V955.75M1227.54,948.91h5.2M1227.54,955.75h5.2M1235.17,949.17V955.15M1232.57,949.17h5.2M1232.57,955.15h5.2M1240.20,947.28V956.14M1237.60,947.28h5.2M1237.60,956.14h5.2M1245.23,946.40V954.87M1242.63,946.40h5.2M1242.63,954.87h5.2M1250.26,946.60V952.51M1247.66,946.60h5.2M1247.66,952.51h5.2M1255.30,944.67V952.67M1252.70,944.67h5.2M1252.70,952.67h5.2M1260.33,945.07V952.73M1257.73,945.07h5.2M1257.73,952.73h5.2M1265.36,944.26V954.00M1262.76,944.26h5.2M1262.76,954.00h5.2M1270.39,944.94V953.77M1267.79,944.94h5.2M1267.79,953.77h5.2M1275.42,946.50V952.67M1272.82,946.50h5.2M1272.82,952.67h5.2M1280.45,944.50V954.78M1277.85,944.50h5.2M1277.85,954.78h5.2M1285.48,946.32V951.53M1282.88,946.32h5.2M1282.88,951.53h5.2M1290.51,944.66V951.76M1287.91,944.66h5.2M1287.91,951.76h5.2M1295.54,942.86V952.12M1292.94,942.86h5.2M1292.94,952.12h5.2M1300.57,944.19V949.78M1297.97,944.19h5.2M1297.97,949.78h5.2M1305.61,942.62V950.35M1303.01,942.62h5.2M1303.01,950.35h5.2M1310.64,943.50V948.47M1308.04,943.50h5.2M1308.04,948.47h5.2M1315.67,940.98V949.98M1313.07,940.98h5.2M1313.07,949.98h5.2M1320.70,940.27V949.93M1318.10,940.27h5.2M1318.10,949.93h5.2M1325.73,940.62V949.08M1323.13,940.62h5.2M1323.13,949.08h5.2M1330.76,939.38V949.82M1328.16,939.38h5.2M1328.16,949.82h5.2M1335.79,940.92V947.78M1333.19,940.92h5.2M1333.19,947.78h5.2M1340.82,939.42V948.77M1338.22,939.42h5.2M1338.22,948.77h5.2M1345.85,937.98V946.90M1343.25,937.98h5.2M1343.25,946.90h5.2M1350.88,936.25V945.28M1348.28,936.25h5.2M1348.28,945.28h5.2M1355.91,935.23V943.58M1353.32,935.23h5.2M1353.32,943.58h5.2M1360.95,933.36V944.45M1358.35,933.36h5.2M1358.35,944.45h5.2M1365.98,932.46V944.35M1363.38,932.46h5.2M1363.38,944.35h5.2M1371.01,933.86V942.48M1368.41,933.86h5.2M1368.41,942.48h5.2M1376.04,932.94V942.94M1373.44,932.94h5.2M1373.44,942.94h5.2M1381.07,934.83V940.58M1378.47,934.83h5.2M1378.47,940.58h5.2M1386.10,932.31V942.63M1383.50,932.31h5.2M1383.50,942.63h5.2M1391.13,932.29V942.25M1388.53,932.29h5.2M1388.53,942.25h5.2" stroke="#6e016b" stroke-width="1.3" fill="none" opacity="0.9"/>
<polyline points="1028.90,1003.66 1033.93,1003.86 1038.96,1004.06 1043.99,1004.26 1049.02,1003.43 1054.06,1002.17 1059.09,1000.91 1064.12,999.02 1069.15,997.02 1074.18,994.50 1079.21,991.99 1084.24,989.94 1089.27,987.93 1094.30,985.86 1099.33,983.76 1104.37,981.67 1109.40,980.10 1114.43,978.55 1119.46,977.01 1124.49,975.67 1129.52,974.32 1134.55,972.98 1139.58,971.37 1144.61,969.61 1149.64,967.85 1154.68,966.09 1159.71,964.42 1164.74,963.42 1169.77,962.41 1174.80,961.40 1179.83,960.40 1184.86,959.39 1189.89,958.39 1194.92,957.38 1199.95,956.37 1204.99,955.37 1210.02,954.36 1215.05,953.35 1220.08,952.66 1225.11,952.50 1230.14,952.33 1235.17,952.16 1240.20,951.71 1245.23,950.63 1250.26,949.55 1255.30,948.67 1260.33,948.90 1265.36,949.13 1270.39,949.36 1275.42,949.59 1280.45,949.64 1285.48,948.92 1290.51,948.21 1295.54,947.49 1300.57,946.99 1305.61,946.48 1310.64,945.98 1315.67,945.48 1320.70,945.10 1325.73,944.85 1330.76,944.60 1335.79,944.35 1340.82,944.10 1345.85,942.44 1350.88,940.77 1355.91,939.41 1360.95,938.91 1365.98,938.41 1371.01,938.17 1376.04,937.94 1381.07,937.71 1386.10,937.47 1391.13,937.27" fill="none" stroke="#6e016b" stroke-width="2.0"/>
<circle cx="1028.90" cy="1003.66" r="3.3" fill="#6e016b"/><circle cx="1033.93" cy="1003.86" r="3.3" fill="#6e016b"/><circle cx="1038.96" cy="1004.06" r="3.3" fill="#6e016b"/><circle cx="1043.99" cy="1004.26" r="3.3" fill="#6e016b"/><circle cx="1049.02" cy="1003.43" r="3.3" fill="#6e016b"/><circle cx="1054.06" cy="1002.17" r="3.3" fill="#6e016b"/><circle cx="1059.09" cy="1000.91" r="3.3" fill="#6e016b"/><circle cx="1064.12" cy="999.02" r="3.3" fill="#6e016b"/><circle cx="1069.15" cy="997.02" r="3.3" fill="#6e016b"/><circle cx="1074.18" cy="994.50" r="3.3" fill="#6e016b"/><circle cx="1079.21" cy="991.99" r="3.3" fill="#6e016b"/><circle cx="1084.24" cy="989.94" r="3.3" fill="#6e016b"/><circle cx="1089.27" cy="987.93" r="3.3" fill="#6e016b"/><circle cx="1094.30" cy="985.86" r="3.3" fill="#6e016b"/><circle cx="1099.33" cy="983.76" r="3.3" fill="#6e016b"/><circle cx="1104.37" cy="981.67" r="3.3" fill="#6e016b"/><circle cx="1109.40" cy="980.10" r="3.3" fill="#6e016b"/><circle cx="1114.43" cy="978.55" r="3.3" fill="#6e016b"/><circle cx="1119.46" cy="977.01" r="3.3" fill="#6e016b"/><circle cx="1124.49" cy="975.67" r="3.3" fill="#6e016b"/><circle cx="1129.52" cy="974.32" r="3.3" fill="#6e016b"/><circle cx="1134.55" cy="972.98" r="3.3" fill="#6e016b"/><circle cx="1139.58" cy="971.37" r="3.3" fill="#6e016b"/><circle cx="1144.61" cy="969.61" r="3.3" fill="#6e016b"/><circle cx="1149.64" cy="967.85" r="3.3" fill="#6e016b"/><circle cx="1154.68" cy="966.09" r="3.3" fill="#6e016b"/><circle cx="1159.71" cy="964.42" r="3.3" fill="#6e016b"/><circle cx="1164.74" cy="963.42" r="3.3" fill="#6e016b"/><circle cx="1169.77" cy="962.41" r="3.3" fill="#6e016b"/><circle cx="1174.80" cy="961.40" r="3.3" fill="#6e016b"/><circle cx="1179.83" cy="960.40" r="3.3" fill="#6e016b"/><circle cx="1184.86" cy="959.39" r="3.3" fill="#6e016b"/><circle cx="1189.89" cy="958.39" r="3.3" fill="#6e016b"/><circle cx="1194.92" cy="957.38" r="3.3" fill="#6e016b"/><circle cx="1199.95" cy="956.37" r="3.3" fill="#6e016b"/><circle cx="1204.99" cy="955.37" r="3.3" fill="#6e016b"/><circle cx="1210.02" cy="954.36" r="3.3" fill="#6e016b"/><circle cx="1215.05" cy="953.35" r="3.3" fill="#6e016b"/><circle cx="1220.08" cy="952.66" r="3.3" fill="#6e016b"/><circle cx="1225.11" cy="952.50" r="3.3" fill="#6e016b"/><circle cx="1230.14" cy="952.33" r="3.3" fill="#6e016b"/><circle cx="1235.17" cy="952.16" r="3.3" fill="#6e016b"/><circle cx="1240.20" cy="951.71" r="3.3" fill="#6e016b"/><circle cx="1245.23" cy="950.63" r="3.3" fill="#6e016b"/><circle cx="1250.26" cy="949.55" r="3.3" fill="#6e016b"/><circle cx="1255.30" cy="948.67" r="3.3" fill="#6e016b"/><circle cx="1260.33" cy="948.90" r="3.3" fill="#6e016b"/><circle cx="1265.36" cy="949.13" r="3.3" fill="#6e016b"/><circle cx="1270.39" cy="949.36" r="3.3" fill="#6e016b"/><circle cx="1275.42" cy="949.59" r="3.3" fill="#6e016b"/><circle cx="1280.45" cy="949.64" r="3.3" fill="#6e016b"/><circle cx="1285.48" cy="948.92" r="3.3" fill="#6e016b"/><circle cx="1290.51" cy="948.21" r="3.3" fill="#6e016b"/><circle cx="1295.54" cy="947.49" r="3.3" fill="#6e016b"/><circle cx="1300.57" cy="946.99" r="3.3" fill="#6e016b"/><circle cx="1305.61" cy="946.48" r="3.3" fill="#6e016b"/><circle cx="1310.64" cy="945.98" r="3.3" fill="#6e016b"/><circle cx="1315.67" cy="945.48" r="3.3" fill="#6e016b"/><circle cx="1320.70" cy="945.10" r="3.3" fill="#6e016b"/><circle cx="1325.73" cy="944.85" r="3.3" fill="#6e016b"/><circle cx="1330.76" cy="944.60" r="3.3" fill="#6e016b"/><circle cx="1335.79" cy="944.35" r="3.3" fill="#6e016b"/><circle cx="1340.82" cy="944.10" r="3.3" fill="#6e016b"/><circle cx="1345.85" cy="942.44" r="3.3" fill="#6e016b"/><circle cx="1350.88" cy="940.77" r="3.3" fill="#6e016b"/><circle cx="1355.91" cy="939.41" r="3.3" fill="#6e016b"/><circle cx="1360.95" cy="938.91" r="3.3" fill="#6e016b"/><circle cx="1365.98" cy="938.41" r="3.3" fill="#6e016b"/><circle cx="1371.01" cy="938.17" r="3.3" fill="#6e016b"/><circle cx="1376.04" cy="937.94" r="3.3" fill="#6e016b"/><circle cx="1381.07" cy="937.71" r="3.3" fill="#6e016b"/><circle cx="1386.10" cy="937.47" r="3.3" fill="#6e016b"/><circle cx="1391.13" cy="937.27" r="3.3" fill="#6e016b"/>
<path d="M1079.21,982.34V985.86M1076.61,982.34h5.2M1076.61,985.86h5.2M1084.24,980.49V982.54M1081.64,980.49h5.2M1081.64,982.54h5.2M1089.27,977.72V980.28M1086.67,977.72h5.2M1086.67,980.28h5.2M1094.30,974.88V978.09M1091.70,974.88h5.2M1091.70,978.09h5.2M1099.33,971.43V976.51M1096.73,971.43h5.2M1096.73,976.51h5.2M1104.37,970.19V972.71M1101.77,970.19h5.2M1101.77,972.71h5.2M1109.40,966.89V970.98M1106.80,966.89h5.2M1106.80,970.98h5.2M1114.43,963.81V968.56M1111.83,963.81h5.2M1111.83,968.56h5.2M1119.46,958.91V965.54M1116.86,958.91h5.2M1116.86,965.54h5.2M1124.49,957.27V963.83M1121.89,957.27h5.2M1121.89,963.83h5.2M1129.52,955.38V962.36M1126.92,955.38h5.2M1126.92,962.36h5.2M1134.55,955.03V959.36M1131.95,955.03h5.2M1131.95,959.36h5.2M1139.58,952.72V957.89M1136.98,952.72h5.2M1136.98,957.89h5.2M1144.61,950.76V955.82M1142.01,950.76h5.2M1142.01,955.82h5.2M1149.64,947.46V955.48M1147.04,947.46h5.2M1147.04,955.48h5.2M1154.68,945.65V954.28M1152.08,945.65h5.2M1152.08,954.28h5.2M1159.71,946.31V950.60M1157.11,946.31h5.2M1157.11,950.60h5.2M1164.74,944.67V949.21M1162.14,944.67h5.2M1162.14,949.21h5.2M1169.77,942.95V947.92M1167.17,942.95h5.2M1167.17,947.92h5.2M1174.80,942.17V947.20M1172.20,942.17h5.2M1172.20,947.20h5.2M1179.83,940.61V947.21M1177.23,940.61h5.2M1177.23,947.21h5.2M1184.86,932.14V949.40M1182.26,932.14h5.2M1182.26,949.40h5.2M1189.89,931.21V944.35M1187.29,931.21h5.2M1187.29,944.35h5.2M1194.92,930.48V940.06M1192.32,930.48h5.2M1192.32,940.06h5.2M1199.95,924.45V941.05M1197.35,924.45h5.2M1197.35,941.05h5.2M1204.99,922.82V939.01M1202.39,922.82h5.2M1202.39,939.01h5.2M1210.02,919.13V939.04M1207.42,919.13h5.2M1207.42,939.04h5.2M1215.05,913.61V940.71M1212.45,913.61h5.2M1212.45,940.71h5.2M1220.08,913.59V936.71M1217.48,913.59h5.2M1217.48,936.71h5.2M1225.11,914.01V934.26M1222.51,914.01h5.2M1222.51,934.26h5.2M1230.14,914.76V936.46M1227.54,914.76h5.2M1227.54,936.46h5.2M1235.17,911.38V934.81M1232.57,911.38h5.2M1232.57,934.81h5.2M1240.20,915.52V927.83M1237.60,915.52h5.2M1237.60,927.83h5.2M1245.23,908.87V936.50M1242.63,908.87h5.2M1242.63,936.50h5.2M1250.26,910.68V935.94M1247.66,910.68h5.2M1247.66,935.94h5.2M1255.30,903.13V931.95M1252.70,903.13h5.2M1252.70,931.95h5.2M1260.33,900.65V928.84M1257.73,900.65h5.2M1257.73,928.84h5.2M1265.36,902.87V923.31M1262.76,902.87h5.2M1262.76,923.31h5.2M1270.39,910.62V929.65M1267.79,910.62h5.2M1267.79,929.65h5.2M1275.42,910.16V924.09M1272.82,910.16h5.2M1272.82,924.09h5.2M1280.45,901.77V926.81M1277.85,901.77h5.2M1277.85,926.81h5.2M1285.48,905.98V919.72M1282.88,905.98h5.2M1282.88,919.72h5.2M1290.51,904.38V918.44M1287.91,904.38h5.2M1287.91,918.44h5.2M1295.54,901.31V918.56M1292.94,901.31h5.2M1292.94,918.56h5.2M1300.57,898.17V915.01M1297.97,898.17h5.2M1297.97,915.01h5.2M1305.61,896.24V916.94M1303.01,896.24h5.2M1303.01,916.94h5.2M1310.64,899.17V913.65M1308.04,899.17h5.2M1308.04,913.65h5.2M1315.67,897.36V910.99M1313.07,897.36h5.2M1313.07,910.99h5.2M1320.70,893.34V910.69M1318.10,893.34h5.2M1318.10,910.69h5.2M1325.73,893.23V909.54M1323.13,893.23h5.2M1323.13,909.54h5.2M1330.76,888.90V911.46M1328.16,888.90h5.2M1328.16,911.46h5.2M1335.79,889.58V904.74M1333.19,889.58h5.2M1333.19,904.74h5.2M1340.82,875.98V912.31M1338.22,875.98h5.2M1338.22,912.31h5.2M1345.85,884.20V912.99M1343.25,884.20h5.2M1343.25,912.99h5.2M1350.88,889.06V907.00M1348.28,889.06h5.2M1348.28,907.00h5.2M1355.91,887.05V907.58M1353.32,887.05h5.2M1353.32,907.58h5.2M1360.95,881.48V905.10M1358.35,881.48h5.2M1358.35,905.10h5.2M1365.98,880.01V904.28M1363.38,880.01h5.2M1363.38,904.28h5.2M1371.01,882.19V900.57M1368.41,882.19h5.2M1368.41,900.57h5.2M1376.04,873.26V909.79M1373.44,873.26h5.2M1373.44,909.79h5.2M1381.07,871.62V911.71M1378.47,871.62h5.2M1378.47,911.71h5.2M1386.10,878.37V905.25M1383.50,878.37h5.2M1383.50,905.25h5.2M1391.13,870.53V899.47M1388.53,870.53h5.2M1388.53,899.47h5.2" stroke="#8c6bb1" stroke-width="1.3" fill="none" opacity="0.9"/>
<polyline points="1028.90,1003.17 1033.93,1003.03 1038.96,1002.90 1043.99,1002.77 1049.02,1001.06 1054.06,998.71 1059.09,996.37 1064.12,993.85 1069.15,991.14 1074.18,987.62 1079.21,984.10 1084.24,981.52 1089.27,979.00 1094.30,976.48 1099.33,973.97 1104.37,971.45 1109.40,968.94 1114.43,966.19 1119.46,962.23 1124.49,960.55 1129.52,958.87 1134.55,957.20 1139.58,955.30 1144.61,953.29 1149.64,951.47 1154.68,949.96 1159.71,948.45 1164.74,946.94 1169.77,945.43 1174.80,944.68 1179.83,943.91 1184.86,940.77 1189.89,937.78 1194.92,935.27 1199.95,932.75 1204.99,930.91 1210.02,929.09 1215.05,927.16 1220.08,925.15 1225.11,924.13 1230.14,925.61 1235.17,923.10 1240.20,921.68 1245.23,922.68 1250.26,923.31 1255.30,917.54 1260.33,914.74 1265.36,913.09 1270.39,920.13 1275.42,917.12 1280.45,914.29 1285.48,912.85 1290.51,911.41 1295.54,909.93 1300.57,906.59 1305.61,906.59 1310.64,906.41 1315.67,904.17 1320.70,902.02 1325.73,901.39 1330.76,900.18 1335.79,897.16 1340.82,894.14 1345.85,898.59 1350.88,898.03 1355.91,897.31 1360.95,893.29 1365.98,892.15 1371.01,891.38 1376.04,891.52 1381.07,891.67 1386.10,891.81 1391.13,885.00" fill="none" stroke="#8c6bb1" stroke-width="2.0"/>
<circle cx="1028.90" cy="1003.17" r="3.3" fill="#8c6bb1"/><circle cx="1033.93" cy="1003.03" r="3.3" fill="#8c6bb1"/><circle cx="1038.96" cy="1002.90" r="3.3" fill="#8c6bb1"/><circle cx="1043.99" cy="1002.77" r="3.3" fill="#8c6bb1"/><circle cx="1049.02" cy="1001.06" r="3.3" fill="#8c6bb1"/><circle cx="1054.06" cy="998.71" r="3.3" fill="#8c6bb1"/><circle cx="1059.09" cy="996.37" r="3.3" fill="#8c6bb1"/><circle cx="1064.12" cy="993.85" r="3.3" fill="#8c6bb1"/><circle cx="1069.15" cy="991.14" r="3.3" fill="#8c6bb1"/><circle cx="1074.18" cy="987.62" r="3.3" fill="#8c6bb1"/><circle cx="1079.21" cy="984.10" r="3.3" fill="#8c6bb1"/><circle cx="1084.24" cy="981.52" r="3.3" fill="#8c6bb1"/><circle cx="1089.27" cy="979.00" r="3.3" fill="#8c6bb1"/><circle cx="1094.30" cy="976.48" r="3.3" fill="#8c6bb1"/><circle cx="1099.33" cy="973.97" r="3.3" fill="#8c6bb1"/><circle cx="1104.37" cy="971.45" r="3.3" fill="#8c6bb1"/><circle cx="1109.40" cy="968.94" r="3.3" fill="#8c6bb1"/><circle cx="1114.43" cy="966.19" r="3.3" fill="#8c6bb1"/><circle cx="1119.46" cy="962.23" r="3.3" fill="#8c6bb1"/><circle cx="1124.49" cy="960.55" r="3.3" fill="#8c6bb1"/><circle cx="1129.52" cy="958.87" r="3.3" fill="#8c6bb1"/><circle cx="1134.55" cy="957.20" r="3.3" fill="#8c6bb1"/><circle cx="1139.58" cy="955.30" r="3.3" fill="#8c6bb1"/><circle cx="1144.61" cy="953.29" r="3.3" fill="#8c6bb1"/><circle cx="1149.64" cy="951.47" r="3.3" fill="#8c6bb1"/><circle cx="1154.68" cy="949.96" r="3.3" fill="#8c6bb1"/><circle cx="1159.71" cy="948.45" r="3.3" fill="#8c6bb1"/><circle cx="1164.74" cy="946.94" r="3.3" fill="#8c6bb1"/><circle cx="1169.77" cy="945.43" r="3.3" fill="#8c6bb1"/><circle cx="1174.80" cy="944.68" r="3.3" fill="#8c6bb1"/><circle cx="1179.83" cy="943.91" r="3.3" fill="#8c6bb1"/><circle cx="1184.86" cy="940.77" r="3.3" fill="#8c6bb1"/><circle cx="1189.89" cy="937.78" r="3.3" fill="#8c6bb1"/><circle cx="1194.92" cy="935.27" r="3.3" fill="#8c6bb1"/><circle cx="1199.95" cy="932.75" r="3.3" fill="#8c6bb1"/><circle cx="1204.99" cy="930.91" r="3.3" fill="#8c6bb1"/><circle cx="1210.02" cy="929.09" r="3.3" fill="#8c6bb1"/><circle cx="1215.05" cy="927.16" r="3.3" fill="#8c6bb1"/><circle cx="1220.08" cy="925.15" r="3.3" fill="#8c6bb1"/><circle cx="1225.11" cy="924.13" r="3.3" fill="#8c6bb1"/><circle cx="1230.14" cy="925.61" r="3.3" fill="#8c6bb1"/><circle cx="1235.17" cy="923.10" r="3.3" fill="#8c6bb1"/><circle cx="1240.20" cy="921.68" r="3.3" fill="#8c6bb1"/><circle cx="1245.23" cy="922.68" r="3.3" fill="#8c6bb1"/><circle cx="1250.26" cy="923.31" r="3.3" fill="#8c6bb1"/><circle cx="1255.30" cy="917.54" r="3.3" fill="#8c6bb1"/><circle cx="1260.33" cy="914.74" r="3.3" fill="#8c6bb1"/><circle cx="1265.36" cy="913.09" r="3.3" fill="#8c6bb1"/><circle cx="1270.39" cy="920.13" r="3.3" fill="#8c6bb1"/><circle cx="1275.42" cy="917.12" r="3.3" fill="#8c6bb1"/><circle cx="1280.45" cy="914.29" r="3.3" fill="#8c6bb1"/><circle cx="1285.48" cy="912.85" r="3.3" fill="#8c6bb1"/><circle cx="1290.51" cy="911.41" r="3.3" fill="#8c6bb1"/><circle cx="1295.54" cy="909.93" r="3.3" fill="#8c6bb1"/><circle cx="1300.57" cy="906.59" r="3.3" fill="#8c6bb1"/><circle cx="1305.61" cy="906.59" r="3.3" fill="#8c6bb1"/><circle cx="1310.64" cy="906.41" r="3.3" fill="#8c6bb1"/><circle cx="1315.67" cy="904.17" r="3.3" fill="#8c6bb1"/><circle cx="1320.70" cy="902.02" r="3.3" fill="#8c6bb1"/><circle cx="1325.73" cy="901.39" r="3.3" fill="#8c6bb1"/><circle cx="1330.76" cy="900.18" r="3.3" fill="#8c6bb1"/><circle cx="1335.79" cy="897.16" r="3.3" fill="#8c6bb1"/><circle cx="1340.82" cy="894.14" r="3.3" fill="#8c6bb1"/><circle cx="1345.85" cy="898.59" r="3.3" fill="#8c6bb1"/><circle cx="1350.88" cy="898.03" r="3.3" fill="#8c6bb1"/><circle cx="1355.91" cy="897.31" r="3.3" fill="#8c6bb1"/><circle cx="1360.95" cy="893.29" r="3.3" fill="#8c6bb1"/><circle cx="1365.98" cy="892.15" r="3.3" fill="#8c6bb1"/><circle cx="1371.01" cy="891.38" r="3.3" fill="#8c6bb1"/><circle cx="1376.04" cy="891.52" r="3.3" fill="#8c6bb1"/><circle cx="1381.07" cy="891.67" r="3.3" fill="#8c6bb1"/><circle cx="1386.10" cy="891.81" r="3.3" fill="#8c6bb1"/><circle cx="1391.13" cy="885.00" r="3.3" fill="#8c6bb1"/>
<path d="M1038.96,1001.03V1003.60M1036.36,1001.03h5.2M1036.36,1003.60h5.2M1043.99,993.92V996.28M1041.39,993.92h5.2M1041.39,996.28h5.2M1049.02,974.95V978.84M1046.42,974.95h5.2M1046.42,978.84h5.2M1054.06,953.27V955.35M1051.46,953.27h5.2M1051.46,955.35h5.2M1064.12,909.67V913.89M1061.52,909.67h5.2M1061.52,913.89h5.2M1069.15,891.58V894.66M1066.55,891.58h5.2M1066.55,894.66h5.2M1074.18,874.92V877.36M1071.58,874.92h5.2M1071.58,877.36h5.2M1079.21,859.68V863.98M1076.61,859.68h5.2M1076.61,863.98h5.2M1084.24,847.60V850.31M1081.64,847.60h5.2M1081.64,850.31h5.2M1089.27,835.35V840.76M1086.67,835.35h5.2M1086.67,840.76h5.2M1094.30,824.12V832.50M1091.70,824.12h5.2M1091.70,832.50h5.2M1099.33,816.22V824.75M1096.73,816.22h5.2M1096.73,824.75h5.2M1104.37,807.84V816.08M1101.77,807.84h5.2M1101.77,816.08h5.2M1109.40,803.09V809.03M1106.80,803.09h5.2M1106.80,809.03h5.2M1114.43,793.85V801.02M1111.83,793.85h5.2M1111.83,801.02h5.2M1119.46,791.30V797.41M1116.86,791.30h5.2M1116.86,797.41h5.2M1124.49,781.84V793.40M1121.89,781.84h5.2M1121.89,793.40h5.2M1129.52,779.26V789.41M1126.92,779.26h5.2M1126.92,789.41h5.2M1134.55,775.52V788.57M1131.95,775.52h5.2M1131.95,788.57h5.2M1139.58,778.04V787.35M1136.98,778.04h5.2M1136.98,787.35h5.2M1144.61,768.49V788.76M1142.01,768.49h5.2M1142.01,788.76h5.2M1149.64,760.54V795.11M1147.04,760.54h5.2M1147.04,795.11h5.2M1154.68,757.69V796.47M1152.08,757.69h5.2M1152.08,796.47h5.2M1159.71,760.55V796.12M1157.11,760.55h5.2M1157.11,796.12h5.2M1164.74,762.18V796.62M1162.14,762.18h5.2M1162.14,796.62h5.2M1169.77,762.41V797.15M1167.17,762.41h5.2M1167.17,797.15h5.2M1174.80,764.76V797.59M1172.20,764.76h5.2M1172.20,797.59h5.2M1179.83,773.19V793.55M1177.23,773.19h5.2M1177.23,793.55h5.2M1184.86,762.66V790.09M1182.26,762.66h5.2M1182.26,790.09h5.2M1189.89,767.47V790.96M1187.29,767.47h5.2M1187.29,790.96h5.2M1194.92,767.77V783.33M1192.32,767.77h5.2M1192.32,783.33h5.2M1199.95,768.57V784.10M1197.35,768.57h5.2M1197.35,784.10h5.2M1204.99,766.50V788.14M1202.39,766.50h5.2M1202.39,788.14h5.2M1210.02,769.89V791.04M1207.42,769.89h5.2M1207.42,791.04h5.2M1215.05,766.79V798.47M1212.45,766.79h5.2M1212.45,798.47h5.2M1220.08,763.25V801.34M1217.48,763.25h5.2M1217.48,801.34h5.2M1225.11,768.25V793.97M1222.51,768.25h5.2M1222.51,793.97h5.2M1230.14,761.78V799.40M1227.54,761.78h5.2M1227.54,799.40h5.2M1235.17,764.12V802.98M1232.57,764.12h5.2M1232.57,802.98h5.2M1240.20,760.46V798.52M1237.60,760.46h5.2M1237.60,798.52h5.2M1245.23,769.65V793.36M1242.63,769.65h5.2M1242.63,793.36h5.2M1250.26,773.27V793.48M1247.66,773.27h5.2M1247.66,793.48h5.2M1255.30,772.59V792.95M1252.70,772.59h5.2M1252.70,792.95h5.2M1260.33,772.35V791.98M1257.73,772.35h5.2M1257.73,791.98h5.2M1265.36,772.44V792.25M1262.76,772.44h5.2M1262.76,792.25h5.2M1270.39,767.71V797.73M1267.79,767.71h5.2M1267.79,797.73h5.2M1275.42,764.98V801.71M1272.82,764.98h5.2M1272.82,801.71h5.2M1280.45,766.63V801.90M1277.85,766.63h5.2M1277.85,801.90h5.2M1285.48,773.25V799.75M1282.88,773.25h5.2M1282.88,799.75h5.2M1290.51,772.02V802.73M1287.91,772.02h5.2M1287.91,802.73h5.2M1295.54,763.23V797.51M1292.94,763.23h5.2M1292.94,797.51h5.2M1300.57,768.67V785.58M1297.97,768.67h5.2M1297.97,785.58h5.2M1305.61,772.34V803.24M1303.01,772.34h5.2M1303.01,803.24h5.2M1310.64,759.53V796.49M1308.04,759.53h5.2M1308.04,796.49h5.2M1315.67,758.92V792.78M1313.07,758.92h5.2M1313.07,792.78h5.2M1320.70,757.98V791.06M1318.10,757.98h5.2M1318.10,791.06h5.2M1325.73,761.18V787.65M1323.13,761.18h5.2M1323.13,787.65h5.2M1330.76,767.06V786.24M1328.16,767.06h5.2M1328.16,786.24h5.2M1335.79,761.24V795.27M1333.19,761.24h5.2M1333.19,795.27h5.2M1340.82,763.37V786.30M1338.22,763.37h5.2M1338.22,786.30h5.2M1345.85,762.12V796.43M1343.25,762.12h5.2M1343.25,796.43h5.2M1350.88,759.44V797.90M1348.28,759.44h5.2M1348.28,797.90h5.2M1355.91,761.01V785.48M1353.32,761.01h5.2M1353.32,785.48h5.2M1360.95,762.35V786.96M1358.35,762.35h5.2M1358.35,786.96h5.2M1365.98,761.53V799.39M1363.38,761.53h5.2M1363.38,799.39h5.2M1371.01,764.56V797.03M1368.41,764.56h5.2M1368.41,797.03h5.2M1376.04,771.64V790.62M1373.44,771.64h5.2M1373.44,790.62h5.2M1381.07,764.24V782.18M1378.47,764.24h5.2M1378.47,782.18h5.2M1386.10,764.35V782.88M1383.50,764.35h5.2M1383.50,782.88h5.2M1391.13,748.40V785.24M1388.53,748.40h5.2M1388.53,785.24h5.2" stroke="#9ebcda" stroke-width="1.3" fill="none" opacity="0.9"/>
<polyline points="1028.90,1003.16 1033.93,1002.94 1038.96,1002.31 1043.99,995.10 1049.02,976.89 1054.06,954.31 1059.09,932.46 1064.12,911.78 1069.15,893.12 1074.18,876.14 1079.21,861.83 1084.24,848.95 1089.27,838.06 1094.30,828.31 1099.33,820.49 1104.37,811.96 1109.40,806.06 1114.43,797.44 1119.46,794.35 1124.49,787.62 1129.52,784.33 1134.55,782.05 1139.58,782.70 1144.61,778.63 1149.64,777.83 1154.68,777.08 1159.71,778.34 1164.74,779.40 1169.77,779.78 1174.80,781.17 1179.83,783.37 1184.86,776.37 1189.89,779.22 1194.92,775.55 1199.95,776.33 1204.99,777.32 1210.02,780.46 1215.05,782.63 1220.08,782.30 1225.11,781.11 1230.14,780.59 1235.17,783.55 1240.20,779.49 1245.23,781.50 1250.26,783.38 1255.30,782.77 1260.33,782.17 1265.36,782.34 1270.39,782.72 1275.42,783.35 1280.45,784.27 1285.48,786.50 1290.51,787.37 1295.54,780.37 1300.57,777.13 1305.61,787.79 1310.64,778.01 1315.67,775.85 1320.70,774.52 1325.73,774.41 1330.76,776.65 1335.79,778.25 1340.82,774.83 1345.85,779.27 1350.88,778.67 1355.91,773.25 1360.95,774.66 1365.98,780.46 1371.01,780.79 1376.04,781.13 1381.07,773.21 1386.10,773.62 1391.13,766.82" fill="none" stroke="#9ebcda" stroke-width="2.0"/>
<circle cx="1028.90" cy="1003.16" r="3.6" fill="#9ebcda"/><circle cx="1033.93" cy="1002.94" r="3.6" fill="#9ebcda"/><circle cx="1038.96" cy="1002.31" r="3.6" fill="#9ebcda"/><circle cx="1043.99" cy="995.10" r="3.6" fill="#9ebcda"/><circle cx="1049.02" cy="976.89" r="3.6" fill="#9ebcda"/><circle cx="1054.06" cy="954.31" r="3.6" fill="#9ebcda"/><circle cx="1059.09" cy="932.46" r="3.6" fill="#9ebcda"/><circle cx="1064.12" cy="911.78" r="3.6" fill="#9ebcda"/><circle cx="1069.15" cy="893.12" r="3.6" fill="#9ebcda"/><circle cx="1074.18" cy="876.14" r="3.6" fill="#9ebcda"/><circle cx="1079.21" cy="861.83" r="3.6" fill="#9ebcda"/><circle cx="1084.24" cy="848.95" r="3.6" fill="#9ebcda"/><circle cx="1089.27" cy="838.06" r="3.6" fill="#9ebcda"/><circle cx="1094.30" cy="828.31" r="3.6" fill="#9ebcda"/><circle cx="1099.33" cy="820.49" r="3.6" fill="#9ebcda"/><circle cx="1104.37" cy="811.96" r="3.6" fill="#9ebcda"/><circle cx="1109.40" cy="806.06" r="3.6" fill="#9ebcda"/><circle cx="1114.43" cy="797.44" r="3.6" fill="#9ebcda"/><circle cx="1119.46" cy="794.35" r="3.6" fill="#9ebcda"/><circle cx="1124.49" cy="787.62" r="3.6" fill="#9ebcda"/><circle cx="1129.52" cy="784.33" r="3.6" fill="#9ebcda"/><circle cx="1134.55" cy="782.05" r="3.6" fill="#9ebcda"/><circle cx="1139.58" cy="782.70" r="3.6" fill="#9ebcda"/><circle cx="1144.61" cy="778.63" r="3.6" fill="#9ebcda"/><circle cx="1149.64" cy="777.83" r="3.6" fill="#9ebcda"/><circle cx="1154.68" cy="777.08" r="3.6" fill="#9ebcda"/><circle cx="1159.71" cy="778.34" r="3.6" fill="#9ebcda"/><circle cx="1164.74" cy="779.40" r="3.6" fill="#9ebcda"/><circle cx="1169.77" cy="779.78" r="3.6" fill="#9ebcda"/><circle cx="1174.80" cy="781.17" r="3.6" fill="#9ebcda"/><circle cx="1179.83" cy="783.37" r="3.6" fill="#9ebcda"/><circle cx="1184.86" cy="776.37" r="3.6" fill="#9ebcda"/><circle cx="1189.89" cy="779.22" r="3.6" fill="#9ebcda"/><circle cx="1194.92" cy="775.55" r="3.6" fill="#9ebcda"/><circle cx="1199.95" cy="776.33" r="3.6" fill="#9ebcda"/><circle cx="1204.99" cy="777.32" r="3.6" fill="#9ebcda"/><circle cx="1210.02" cy="780.46" r="3.6" fill="#9ebcda"/><circle cx="1215.05" cy="782.63" r="3.6" fill="#9ebcda"/><circle cx="1220.08" cy="782.30" r="3.6" fill="#9ebcda"/><circle cx="1225.11" cy="781.11" r="3.6" fill="#9ebcda"/><circle cx="1230.14" cy="780.59" r="3.6" fill="#9ebcda"/><circle cx="1235.17" cy="783.55" r="3.6" fill="#9ebcda"/><circle cx="1240.20" cy="779.49" r="3.6" fill="#9ebcda"/><circle cx="1245.23" cy="781.50" r="3.6" fill="#9ebcda"/><circle cx="1250.26" cy="783.38" r="3.6" fill="#9ebcda"/><circle cx="1255.30" cy="782.77" r="3.6" fill="#9ebcda"/><circle cx="1260.33" cy="782.17" r="3.6" fill="#9ebcda"/><circle cx="1265.36" cy="782.34" r="3.6" fill="#9ebcda"/><circle cx="1270.39" cy="782.72" r="3.6" fill="#9ebcda"/><circle cx="1275.42" cy="783.35" r="3.6" fill="#9ebcda"/><circle cx="1280.45" cy="784.27" r="3.6" fill="#9ebcda"/><circle cx="1285.48" cy="786.50" r="3.6" fill="#9ebcda"/><circle cx="1290.51" cy="787.37" r="3.6" fill="#9ebcda"/><circle cx="1295.54" cy="780.37" r="3.6" fill="#9ebcda"/><circle cx="1300.57" cy="777.13" r="3.6" fill="#9ebcda"/><circle cx="1305.61" cy="787.79" r="3.6" fill="#9ebcda"/><circle cx="1310.64" cy="778.01" r="3.6" fill="#9ebcda"/><circle cx="1315.67" cy="775.85" r="3.6" fill="#9ebcda"/><circle cx="1320.70" cy="774.52" r="3.6" fill="#9ebcda"/><circle cx="1325.73" cy="774.41" r="3.6" fill="#9ebcda"/><circle cx="1330.76" cy="776.65" r="3.6" fill="#9ebcda"/><circle cx="1335.79" cy="778.25" r="3.6" fill="#9ebcda"/><circle cx="1340.82" cy="774.83" r="3.6" fill="#9ebcda"/><circle cx="1345.85" cy="779.27" r="3.6" fill="#9ebcda"/><circle cx="1350.88" cy="778.67" r="3.6" fill="#9ebcda"/><circle cx="1355.91" cy="773.25" r="3.6" fill="#9ebcda"/><circle cx="1360.95" cy="774.66" r="3.6" fill="#9ebcda"/><circle cx="1365.98" cy="780.46" r="3.6" fill="#9ebcda"/><circle cx="1371.01" cy="780.79" r="3.6" fill="#9ebcda"/><circle cx="1376.04" cy="781.13" r="3.6" fill="#9ebcda"/><circle cx="1381.07" cy="773.21" r="3.6" fill="#9ebcda"/><circle cx="1386.10" cy="773.62" r="3.6" fill="#9ebcda"/><circle cx="1391.13" cy="766.82" r="3.6" fill="#9ebcda"/>
<path d="M1552.54,989.58V991.82M1549.94,989.58h5.2M1549.94,991.82h5.2M1567.64,988.18V990.20M1565.04,988.18h5.2M1565.04,990.20h5.2M1572.67,987.47V989.91M1570.07,987.47h5.2M1570.07,989.91h5.2M1582.73,986.40V988.96M1580.13,986.40h5.2M1580.13,988.96h5.2M1587.76,986.19V988.27M1585.16,986.19h5.2M1585.16,988.27h5.2M1592.79,985.90V988.04M1590.19,985.90h5.2M1590.19,988.04h5.2M1597.82,985.65V987.80M1595.22,985.65h5.2M1595.22,987.80h5.2M1607.88,985.18V987.26M1605.29,985.18h5.2M1605.29,987.26h5.2M1622.98,983.45V986.13M1620.38,983.45h5.2M1620.38,986.13h5.2M1633.04,982.67V984.98M1630.44,982.67h5.2M1630.44,984.98h5.2M1638.07,982.23V984.92M1635.47,982.23h5.2M1635.47,984.92h5.2M1643.10,982.09V984.56M1640.50,982.09h5.2M1640.50,984.56h5.2M1648.13,981.99V984.15M1645.53,981.99h5.2M1645.53,984.15h5.2M1653.16,981.59V984.05M1650.56,981.59h5.2M1650.56,984.05h5.2M1658.19,981.14V983.68M1655.60,981.14h5.2M1655.60,983.68h5.2M1663.23,980.44V983.37M1660.63,980.44h5.2M1660.63,983.37h5.2M1673.29,979.56V982.24M1670.69,979.56h5.2M1670.69,982.24h5.2M1678.32,979.33V981.56M1675.72,979.33h5.2M1675.72,981.56h5.2M1683.35,979.20V981.48M1680.75,979.20h5.2M1680.75,981.48h5.2M1688.38,978.71V981.78M1685.78,978.71h5.2M1685.78,981.78h5.2M1693.41,978.81V981.47M1690.81,978.81h5.2M1690.81,981.47h5.2M1698.44,978.66V981.42M1695.84,978.66h5.2M1695.84,981.42h5.2M1703.47,978.21V981.30M1700.87,978.21h5.2M1700.87,981.30h5.2M1708.50,977.67V981.04M1705.90,977.67h5.2M1705.90,981.04h5.2M1713.54,977.63V980.28M1710.94,977.63h5.2M1710.94,980.28h5.2M1718.57,977.07V980.03M1715.97,977.07h5.2M1715.97,980.03h5.2M1723.60,976.77V979.58M1721.00,976.77h5.2M1721.00,979.58h5.2M1728.63,976.66V979.49M1726.03,976.66h5.2M1726.03,979.49h5.2M1733.66,976.40V979.54M1731.06,976.40h5.2M1731.06,979.54h5.2M1738.69,976.50V979.24M1736.09,976.50h5.2M1736.09,979.24h5.2M1743.72,976.33V979.22M1741.12,976.33h5.2M1741.12,979.22h5.2M1748.75,976.18V978.99M1746.15,976.18h5.2M1746.15,978.99h5.2M1753.78,975.52V979.15M1751.18,975.52h5.2M1751.18,979.15h5.2M1758.82,975.46V978.70M1756.22,975.46h5.2M1756.22,978.70h5.2M1763.85,975.05V978.61M1761.25,975.05h5.2M1761.25,978.61h5.2M1768.88,974.74V978.44M1766.28,974.74h5.2M1766.28,978.44h5.2M1773.91,975.34V977.84M1771.31,975.34h5.2M1771.31,977.84h5.2M1778.94,975.07V978.11M1776.34,975.07h5.2M1776.34,978.11h5.2M1783.97,974.74V978.44M1781.37,974.74h5.2M1781.37,978.44h5.2M1789.00,974.83V978.35M1786.40,974.83h5.2M1786.40,978.35h5.2M1794.03,975.45V977.74M1791.43,975.45h5.2M1791.43,977.74h5.2" stroke="#6e016b" stroke-width="1.3" fill="none" opacity="0.9"/>
<polyline points="1431.80,1003.18 1436.83,1002.88 1441.86,1002.57 1446.89,1002.26 1451.92,1001.90 1456.95,1001.40 1461.99,1000.89 1467.02,1000.39 1472.05,999.89 1477.08,999.19 1482.11,998.43 1487.14,997.68 1492.17,996.92 1497.20,996.23 1502.23,995.73 1507.26,995.23 1512.30,994.72 1517.33,994.22 1522.36,993.72 1527.39,993.22 1532.42,992.71 1537.45,992.21 1542.48,991.71 1547.51,991.20 1552.54,990.70 1557.58,990.20 1562.61,989.69 1567.64,989.19 1572.67,988.69 1577.70,988.18 1582.73,987.68 1587.76,987.23 1592.79,986.97 1597.82,986.72 1602.85,986.47 1607.88,986.22 1612.92,985.80 1617.95,985.30 1622.98,984.79 1628.01,984.29 1633.04,983.83 1638.07,983.57 1643.10,983.32 1648.13,983.07 1653.16,982.82 1658.19,982.41 1663.23,981.90 1668.26,981.40 1673.29,980.90 1678.32,980.44 1683.35,980.34 1688.38,980.24 1693.41,980.14 1698.44,980.04 1703.47,979.76 1708.50,979.36 1713.54,978.95 1718.57,978.55 1723.60,978.17 1728.63,978.07 1733.66,977.97 1738.69,977.87 1743.72,977.77 1748.75,977.59 1753.78,977.33 1758.82,977.08 1763.85,976.83 1768.88,976.59 1773.91,976.59 1778.94,976.59 1783.97,976.59 1789.00,976.59 1794.03,976.59" fill="none" stroke="#6e016b" stroke-width="2.0"/>
<circle cx="1431.80" cy="1003.18" r="3.3" fill="#6e016b"/><circle cx="1436.83" cy="1002.88" r="3.3" fill="#6e016b"/><circle cx="1441.86" cy="1002.57" r="3.3" fill="#6e016b"/><circle cx="1446.89" cy="1002.26" r="3.3" fill="#6e016b"/><circle cx="1451.92" cy="1001.90" r="3.3" fill="#6e016b"/><circle cx="1456.95" cy="1001.40" r="3.3" fill="#6e016b"/><circle cx="1461.99" cy="1000.89" r="3.3" fill="#6e016b"/><circle cx="1467.02" cy="1000.39" r="3.3" fill="#6e016b"/><circle cx="1472.05" cy="999.89" r="3.3" fill="#6e016b"/><circle cx="1477.08" cy="999.19" r="3.3" fill="#6e016b"/><circle cx="1482.11" cy="998.43" r="3.3" fill="#6e016b"/><circle cx="1487.14" cy="997.68" r="3.3" fill="#6e016b"/><circle cx="1492.17" cy="996.92" r="3.3" fill="#6e016b"/><circle cx="1497.20" cy="996.23" r="3.3" fill="#6e016b"/><circle cx="1502.23" cy="995.73" r="3.3" fill="#6e016b"/><circle cx="1507.26" cy="995.23" r="3.3" fill="#6e016b"/><circle cx="1512.30" cy="994.72" r="3.3" fill="#6e016b"/><circle cx="1517.33" cy="994.22" r="3.3" fill="#6e016b"/><circle cx="1522.36" cy="993.72" r="3.3" fill="#6e016b"/><circle cx="1527.39" cy="993.22" r="3.3" fill="#6e016b"/><circle cx="1532.42" cy="992.71" r="3.3" fill="#6e016b"/><circle cx="1537.45" cy="992.21" r="3.3" fill="#6e016b"/><circle cx="1542.48" cy="991.71" r="3.3" fill="#6e016b"/><circle cx="1547.51" cy="991.20" r="3.3" fill="#6e016b"/><circle cx="1552.54" cy="990.70" r="3.3" fill="#6e016b"/><circle cx="1557.58" cy="990.20" r="3.3" fill="#6e016b"/><circle cx="1562.61" cy="989.69" r="3.3" fill="#6e016b"/><circle cx="1567.64" cy="989.19" r="3.3" fill="#6e016b"/><circle cx="1572.67" cy="988.69" r="3.3" fill="#6e016b"/><circle cx="1577.70" cy="988.18" r="3.3" fill="#6e016b"/><circle cx="1582.73" cy="987.68" r="3.3" fill="#6e016b"/><circle cx="1587.76" cy="987.23" r="3.3" fill="#6e016b"/><circle cx="1592.79" cy="986.97" r="3.3" fill="#6e016b"/><circle cx="1597.82" cy="986.72" r="3.3" fill="#6e016b"/><circle cx="1602.85" cy="986.47" r="3.3" fill="#6e016b"/><circle cx="1607.88" cy="986.22" r="3.3" fill="#6e016b"/><circle cx="1612.92" cy="985.80" r="3.3" fill="#6e016b"/><circle cx="1617.95" cy="985.30" r="3.3" fill="#6e016b"/><circle cx="1622.98" cy="984.79" r="3.3" fill="#6e016b"/><circle cx="1628.01" cy="984.29" r="3.3" fill="#6e016b"/><circle cx="1633.04" cy="983.83" r="3.3" fill="#6e016b"/><circle cx="1638.07" cy="983.57" r="3.3" fill="#6e016b"/><circle cx="1643.10" cy="983.32" r="3.3" fill="#6e016b"/><circle cx="1648.13" cy="983.07" r="3.3" fill="#6e016b"/><circle cx="1653.16" cy="982.82" r="3.3" fill="#6e016b"/><circle cx="1658.19" cy="982.41" r="3.3" fill="#6e016b"/><circle cx="1663.23" cy="981.90" r="3.3" fill="#6e016b"/><circle cx="1668.26" cy="981.40" r="3.3" fill="#6e016b"/><circle cx="1673.29" cy="980.90" r="3.3" fill="#6e016b"/><circle cx="1678.32" cy="980.44" r="3.3" fill="#6e016b"/><circle cx="1683.35" cy="980.34" r="3.3" fill="#6e016b"/><circle cx="1688.38" cy="980.24" r="3.3" fill="#6e016b"/><circle cx="1693.41" cy="980.14" r="3.3" fill="#6e016b"/><circle cx="1698.44" cy="980.04" r="3.3" fill="#6e016b"/><circle cx="1703.47" cy="979.76" r="3.3" fill="#6e016b"/><circle cx="1708.50" cy="979.36" r="3.3" fill="#6e016b"/><circle cx="1713.54" cy="978.95" r="3.3" fill="#6e016b"/><circle cx="1718.57" cy="978.55" r="3.3" fill="#6e016b"/><circle cx="1723.60" cy="978.17" r="3.3" fill="#6e016b"/><circle cx="1728.63" cy="978.07" r="3.3" fill="#6e016b"/><circle cx="1733.66" cy="977.97" r="3.3" fill="#6e016b"/><circle cx="1738.69" cy="977.87" r="3.3" fill="#6e016b"/><circle cx="1743.72" cy="977.77" r="3.3" fill="#6e016b"/><circle cx="1748.75" cy="977.59" r="3.3" fill="#6e016b"/><circle cx="1753.78" cy="977.33" r="3.3" fill="#6e016b"/><circle cx="1758.82" cy="977.08" r="3.3" fill="#6e016b"/><circle cx="1763.85" cy="976.83" r="3.3" fill="#6e016b"/><circle cx="1768.88" cy="976.59" r="3.3" fill="#6e016b"/><circle cx="1773.91" cy="976.59" r="3.3" fill="#6e016b"/><circle cx="1778.94" cy="976.59" r="3.3" fill="#6e016b"/><circle cx="1783.97" cy="976.59" r="3.3" fill="#6e016b"/><circle cx="1789.00" cy="976.59" r="3.3" fill="#6e016b"/><circle cx="1794.03" cy="976.59" r="3.3" fill="#6e016b"/>
<path d="M1456.95,997.46V999.48M1454.36,997.46h5.2M1454.36,999.48h5.2M1461.99,996.24V998.66M1459.39,996.24h5.2M1459.39,998.66h5.2M1467.02,994.47V997.41M1464.42,994.47h5.2M1464.42,997.41h5.2M1477.08,991.56V994.68M1474.48,991.56h5.2M1474.48,994.68h5.2M1482.11,990.25V993.47M1479.51,990.25h5.2M1479.51,993.47h5.2M1487.14,989.59V991.64M1484.54,989.59h5.2M1484.54,991.64h5.2M1492.17,987.39V991.68M1489.57,987.39h5.2M1489.57,991.68h5.2M1497.20,986.07V990.84M1494.60,986.07h5.2M1494.60,990.84h5.2M1502.23,986.06V988.70M1499.63,986.06h5.2M1499.63,988.70h5.2M1507.26,983.69V988.91M1504.66,983.69h5.2M1504.66,988.91h5.2M1512.30,983.46V986.98M1509.70,983.46h5.2M1509.70,986.98h5.2M1517.33,982.14V986.15M1514.73,982.14h5.2M1514.73,986.15h5.2M1522.36,980.22V986.26M1519.76,980.22h5.2M1519.76,986.26h5.2M1527.39,979.59V985.22M1524.79,979.59h5.2M1524.79,985.22h5.2M1532.42,980.02V983.12M1529.82,980.02h5.2M1529.82,983.12h5.2M1537.45,978.57V982.88M1534.85,978.57h5.2M1534.85,982.88h5.2M1542.48,977.49V982.29M1539.88,977.49h5.2M1539.88,982.29h5.2M1547.51,976.97V981.13M1544.91,976.97h5.2M1544.91,981.13h5.2M1552.54,976.40V980.03M1549.94,976.40h5.2M1549.94,980.03h5.2M1557.58,974.54V978.92M1554.98,974.54h5.2M1554.98,978.92h5.2M1562.61,971.93V978.50M1560.01,971.93h5.2M1560.01,978.50h5.2M1567.64,972.58V975.78M1565.04,972.58h5.2M1565.04,975.78h5.2M1572.67,970.31V976.37M1570.07,970.31h5.2M1570.07,976.37h5.2M1577.70,969.71V975.30M1575.10,969.71h5.2M1575.10,975.30h5.2M1582.73,970.25V973.64M1580.13,970.25h5.2M1580.13,973.64h5.2M1587.76,968.80V973.97M1585.16,968.80h5.2M1585.16,973.97h5.2M1592.79,967.39V974.26M1590.19,967.39h5.2M1590.19,974.26h5.2M1597.82,967.10V973.44M1595.22,967.10h5.2M1595.22,973.44h5.2M1602.85,967.59V971.47M1600.25,967.59h5.2M1600.25,971.47h5.2M1607.88,964.10V973.45M1605.29,964.10h5.2M1605.29,973.45h5.2M1612.92,963.84V972.19M1610.32,963.84h5.2M1610.32,972.19h5.2M1617.95,962.45V972.07M1615.35,962.45h5.2M1615.35,972.07h5.2M1622.98,964.19V968.62M1620.38,964.19h5.2M1620.38,968.62h5.2M1628.01,962.62V968.18M1625.41,962.62h5.2M1625.41,968.18h5.2M1633.04,962.48V966.69M1630.44,962.48h5.2M1630.44,966.69h5.2M1638.07,960.37V969.30M1635.47,960.37h5.2M1635.47,969.30h5.2M1643.10,962.27V967.90M1640.50,962.27h5.2M1640.50,967.90h5.2M1648.13,962.99V967.69M1645.53,962.99h5.2M1645.53,967.69h5.2M1653.16,962.33V968.85M1650.56,962.33h5.2M1650.56,968.85h5.2M1658.19,960.17V969.91M1655.60,960.17h5.2M1655.60,969.91h5.2M1663.23,959.36V968.71M1660.63,959.36h5.2M1660.63,968.71h5.2M1668.26,960.32V966.11M1665.66,960.32h5.2M1665.66,966.11h5.2M1673.29,960.16V965.28M1670.69,960.16h5.2M1670.69,965.28h5.2M1678.32,957.07V967.47M1675.72,957.07h5.2M1675.72,967.47h5.2M1683.35,958.26V966.29M1680.75,958.26h5.2M1680.75,966.29h5.2M1688.38,957.82V966.73M1685.78,957.82h5.2M1685.78,966.73h5.2M1693.41,959.89V964.65M1690.81,959.89h5.2M1690.81,964.65h5.2M1698.44,960.00V964.54M1695.84,960.00h5.2M1695.84,964.54h5.2M1703.47,957.69V966.55M1700.87,957.69h5.2M1700.87,966.55h5.2M1708.50,958.32V965.42M1705.90,958.32h5.2M1705.90,965.42h5.2M1713.54,959.26V963.97M1710.94,959.26h5.2M1710.94,963.97h5.2M1718.57,956.00V966.73M1715.97,956.00h5.2M1715.97,966.73h5.2M1723.60,956.78V965.45M1721.00,956.78h5.2M1721.00,965.45h5.2M1728.63,955.92V965.81M1726.03,955.92h5.2M1726.03,965.81h5.2M1733.66,958.17V963.06M1731.06,958.17h5.2M1731.06,963.06h5.2M1738.69,955.17V965.55M1736.09,955.17h5.2M1736.09,965.55h5.2M1743.72,957.70V962.52M1741.12,957.70h5.2M1741.12,962.52h5.2M1748.75,954.60V965.12M1746.15,954.60h5.2M1746.15,965.12h5.2M1753.78,955.78V963.43M1751.18,955.78h5.2M1751.18,963.43h5.2M1758.82,955.93V962.78M1756.22,955.93h5.2M1756.22,962.78h5.2M1763.85,954.88V963.32M1761.25,954.88h5.2M1761.25,963.32h5.2M1768.88,953.26V964.46M1766.28,953.26h5.2M1766.28,964.46h5.2M1773.91,955.66V962.07M1771.31,955.66h5.2M1771.31,962.07h5.2M1778.94,956.17V961.56M1776.34,956.17h5.2M1776.34,961.56h5.2M1783.97,954.72V963.01M1781.37,954.72h5.2M1781.37,963.01h5.2M1789.00,955.77V961.96M1786.40,955.77h5.2M1786.40,961.96h5.2M1794.03,956.24V961.49M1791.43,956.24h5.2M1791.43,961.49h5.2" stroke="#8c6bb1" stroke-width="1.3" fill="none" opacity="0.9"/>
<polyline points="1431.80,1003.18 1436.83,1002.26 1441.86,1001.34 1446.89,1000.42 1451.92,999.48 1456.95,998.47 1461.99,997.45 1467.02,995.94 1472.05,994.43 1477.08,993.12 1482.11,991.86 1487.14,990.61 1492.17,989.53 1497.20,988.46 1502.23,987.38 1507.26,986.30 1512.30,985.22 1517.33,984.14 1522.36,983.24 1527.39,982.40 1532.42,981.57 1537.45,980.73 1542.48,979.89 1547.51,979.05 1552.54,978.21 1557.58,976.73 1562.61,975.22 1567.64,974.18 1572.67,973.34 1577.70,972.50 1582.73,971.94 1587.76,971.39 1592.79,970.83 1597.82,970.27 1602.85,969.53 1607.88,968.77 1612.92,968.02 1617.95,967.26 1622.98,966.40 1628.01,965.40 1633.04,964.58 1638.07,964.84 1643.10,965.09 1648.13,965.34 1653.16,965.59 1658.19,965.04 1663.23,964.04 1668.26,963.22 1673.29,962.72 1678.32,962.27 1683.35,962.27 1688.38,962.27 1693.41,962.27 1698.44,962.27 1703.47,962.12 1708.50,961.87 1713.54,961.62 1718.57,961.37 1723.60,961.12 1728.63,960.86 1733.66,960.61 1738.69,960.36 1743.72,960.11 1748.75,959.86 1753.78,959.61 1758.82,959.35 1763.85,959.10 1768.88,958.86 1773.91,958.86 1778.94,958.86 1783.97,958.86 1789.00,958.86 1794.03,958.86" fill="none" stroke="#8c6bb1" stroke-width="2.0"/>
<circle cx="1431.80" cy="1003.18" r="3.3" fill="#8c6bb1"/><circle cx="1436.83" cy="1002.26" r="3.3" fill="#8c6bb1"/><circle cx="1441.86" cy="1001.34" r="3.3" fill="#8c6bb1"/><circle cx="1446.89" cy="1000.42" r="3.3" fill="#8c6bb1"/><circle cx="1451.92" cy="999.48" r="3.3" fill="#8c6bb1"/><circle cx="1456.95" cy="998.47" r="3.3" fill="#8c6bb1"/><circle cx="1461.99" cy="997.45" r="3.3" fill="#8c6bb1"/><circle cx="1467.02" cy="995.94" r="3.3" fill="#8c6bb1"/><circle cx="1472.05" cy="994.43" r="3.3" fill="#8c6bb1"/><circle cx="1477.08" cy="993.12" r="3.3" fill="#8c6bb1"/><circle cx="1482.11" cy="991.86" r="3.3" fill="#8c6bb1"/><circle cx="1487.14" cy="990.61" r="3.3" fill="#8c6bb1"/><circle cx="1492.17" cy="989.53" r="3.3" fill="#8c6bb1"/><circle cx="1497.20" cy="988.46" r="3.3" fill="#8c6bb1"/><circle cx="1502.23" cy="987.38" r="3.3" fill="#8c6bb1"/><circle cx="1507.26" cy="986.30" r="3.3" fill="#8c6bb1"/><circle cx="1512.30" cy="985.22" r="3.3" fill="#8c6bb1"/><circle cx="1517.33" cy="984.14" r="3.3" fill="#8c6bb1"/><circle cx="1522.36" cy="983.24" r="3.3" fill="#8c6bb1"/><circle cx="1527.39" cy="982.40" r="3.3" fill="#8c6bb1"/><circle cx="1532.42" cy="981.57" r="3.3" fill="#8c6bb1"/><circle cx="1537.45" cy="980.73" r="3.3" fill="#8c6bb1"/><circle cx="1542.48" cy="979.89" r="3.3" fill="#8c6bb1"/><circle cx="1547.51" cy="979.05" r="3.3" fill="#8c6bb1"/><circle cx="1552.54" cy="978.21" r="3.3" fill="#8c6bb1"/><circle cx="1557.58" cy="976.73" r="3.3" fill="#8c6bb1"/><circle cx="1562.61" cy="975.22" r="3.3" fill="#8c6bb1"/><circle cx="1567.64" cy="974.18" r="3.3" fill="#8c6bb1"/><circle cx="1572.67" cy="973.34" r="3.3" fill="#8c6bb1"/><circle cx="1577.70" cy="972.50" r="3.3" fill="#8c6bb1"/><circle cx="1582.73" cy="971.94" r="3.3" fill="#8c6bb1"/><circle cx="1587.76" cy="971.39" r="3.3" fill="#8c6bb1"/><circle cx="1592.79" cy="970.83" r="3.3" fill="#8c6bb1"/><circle cx="1597.82" cy="970.27" r="3.3" fill="#8c6bb1"/><circle cx="1602.85" cy="969.53" r="3.3" fill="#8c6bb1"/><circle cx="1607.88" cy="968.77" r="3.3" fill="#8c6bb1"/><circle cx="1612.92" cy="968.02" r="3.3" fill="#8c6bb1"/><circle cx="1617.95" cy="967.26" r="3.3" fill="#8c6bb1"/><circle cx="1622.98" cy="966.40" r="3.3" fill="#8c6bb1"/><circle cx="1628.01" cy="965.40" r="3.3" fill="#8c6bb1"/><circle cx="1633.04" cy="964.58" r="3.3" fill="#8c6bb1"/><circle cx="1638.07" cy="964.84" r="3.3" fill="#8c6bb1"/><circle cx="1643.10" cy="965.09" r="3.3" fill="#8c6bb1"/><circle cx="1648.13" cy="965.34" r="3.3" fill="#8c6bb1"/><circle cx="1653.16" cy="965.59" r="3.3" fill="#8c6bb1"/><circle cx="1658.19" cy="965.04" r="3.3" fill="#8c6bb1"/><circle cx="1663.23" cy="964.04" r="3.3" fill="#8c6bb1"/><circle cx="1668.26" cy="963.22" r="3.3" fill="#8c6bb1"/><circle cx="1673.29" cy="962.72" r="3.3" fill="#8c6bb1"/><circle cx="1678.32" cy="962.27" r="3.3" fill="#8c6bb1"/><circle cx="1683.35" cy="962.27" r="3.3" fill="#8c6bb1"/><circle cx="1688.38" cy="962.27" r="3.3" fill="#8c6bb1"/><circle cx="1693.41" cy="962.27" r="3.3" fill="#8c6bb1"/><circle cx="1698.44" cy="962.27" r="3.3" fill="#8c6bb1"/><circle cx="1703.47" cy="962.12" r="3.3" fill="#8c6bb1"/><circle cx="1708.50" cy="961.87" r="3.3" fill="#8c6bb1"/><circle cx="1713.54" cy="961.62" r="3.3" fill="#8c6bb1"/><circle cx="1718.57" cy="961.37" r="3.3" fill="#8c6bb1"/><circle cx="1723.60" cy="961.12" r="3.3" fill="#8c6bb1"/><circle cx="1728.63" cy="960.86" r="3.3" fill="#8c6bb1"/><circle cx="1733.66" cy="960.61" r="3.3" fill="#8c6bb1"/><circle cx="1738.69" cy="960.36" r="3.3" fill="#8c6bb1"/><circle cx="1743.72" cy="960.11" r="3.3" fill="#8c6bb1"/><circle cx="1748.75" cy="959.86" r="3.3" fill="#8c6bb1"/><circle cx="1753.78" cy="959.61" r="3.3" fill="#8c6bb1"/><circle cx="1758.82" cy="959.35" r="3.3" fill="#8c6bb1"/><circle cx="1763.85" cy="959.10" r="3.3" fill="#8c6bb1"/><circle cx="1768.88" cy="958.86" r="3.3" fill="#8c6bb1"/><circle cx="1773.91" cy="958.86" r="3.3" fill="#8c6bb1"/><circle cx="1778.94" cy="958.86" r="3.3" fill="#8c6bb1"/><circle cx="1783.97" cy="958.86" r="3.3" fill="#8c6bb1"/><circle cx="1789.00" cy="958.86" r="3.3" fill="#8c6bb1"/><circle cx="1794.03" cy="958.86" r="3.3" fill="#8c6bb1"/>
<path d="M1456.95,969.84V972.02M1454.36,969.84h5.2M1454.36,972.02h5.2M1467.02,939.55V941.55M1464.42,939.55h5.2M1464.42,941.55h5.2M1497.20,870.48V877.21M1494.60,870.48h5.2M1494.60,877.21h5.2M1502.23,860.86V871.49M1499.63,860.86h5.2M1499.63,871.49h5.2M1507.26,854.61V867.68M1504.66,854.61h5.2M1504.66,867.68h5.2M1512.30,845.38V864.10M1509.70,845.38h5.2M1509.70,864.10h5.2M1517.33,834.83V861.46M1514.73,834.83h5.2M1514.73,861.46h5.2M1522.36,832.68V856.24M1519.76,832.68h5.2M1519.76,856.24h5.2M1527.39,821.86V856.94M1524.79,821.86h5.2M1524.79,856.94h5.2M1532.42,815.52V850.45M1529.82,815.52h5.2M1529.82,850.45h5.2M1537.45,806.48V846.41M1534.85,806.48h5.2M1534.85,846.41h5.2M1542.48,797.75V847.15M1539.88,797.75h5.2M1539.88,847.15h5.2M1547.51,797.88V844.52M1544.91,797.88h5.2M1544.91,844.52h5.2M1552.54,791.37V844.16M1549.94,791.37h5.2M1549.94,844.16h5.2M1557.58,784.07V844.69M1554.98,784.07h5.2M1554.98,844.69h5.2M1562.61,776.28V847.71M1560.01,776.28h5.2M1560.01,847.71h5.2M1567.64,783.55V845.29M1565.04,783.55h5.2M1565.04,845.29h5.2M1572.67,771.07V848.71M1570.07,771.07h5.2M1570.07,848.71h5.2M1577.70,767.05V846.17M1575.10,767.05h5.2M1575.10,846.17h5.2M1582.73,764.60V846.31M1580.13,764.60h5.2M1580.13,846.31h5.2M1587.76,762.07V837.46M1585.16,762.07h5.2M1585.16,837.46h5.2M1592.79,761.76V835.60M1590.19,761.76h5.2M1590.19,835.60h5.2M1597.82,769.07V834.91M1595.22,769.07h5.2M1595.22,834.91h5.2M1602.85,765.16V833.05M1600.25,765.16h5.2M1600.25,833.05h5.2M1607.88,766.62V832.90M1605.29,766.62h5.2M1605.29,832.90h5.2M1612.92,757.48V842.06M1610.32,757.48h5.2M1610.32,842.06h5.2M1617.95,765.24V836.57M1615.35,765.24h5.2M1615.35,836.57h5.2M1622.98,766.07V834.88M1620.38,766.07h5.2M1620.38,834.88h5.2M1628.01,764.17V830.83M1625.41,764.17h5.2M1625.41,830.83h5.2M1633.04,753.90V841.22M1630.44,753.90h5.2M1630.44,841.22h5.2M1638.07,756.72V844.84M1635.47,756.72h5.2M1635.47,844.84h5.2M1643.10,754.44V837.09M1640.50,754.44h5.2M1640.50,837.09h5.2M1648.13,758.53V830.58M1645.53,758.53h5.2M1645.53,830.58h5.2M1653.16,760.42V831.39M1650.56,760.42h5.2M1650.56,831.39h5.2M1658.19,763.44V835.79M1655.60,763.44h5.2M1655.60,835.79h5.2M1663.23,762.86V839.75M1660.63,762.86h5.2M1660.63,839.75h5.2M1668.26,765.56V834.21M1665.66,765.56h5.2M1665.66,834.21h5.2M1673.29,759.22V835.74M1670.69,759.22h5.2M1670.69,835.74h5.2M1678.32,760.61V832.15M1675.72,760.61h5.2M1675.72,832.15h5.2M1683.35,760.04V850.65M1680.75,760.04h5.2M1680.75,850.65h5.2M1688.38,757.84V848.74M1685.78,757.84h5.2M1685.78,848.74h5.2M1693.41,761.37V840.65M1690.81,761.37h5.2M1690.81,840.65h5.2M1698.44,767.58V838.61M1695.84,767.58h5.2M1695.84,838.61h5.2M1703.47,756.77V847.49M1700.87,756.77h5.2M1700.87,847.49h5.2M1708.50,761.22V834.03M1705.90,761.22h5.2M1705.90,834.03h5.2M1713.54,767.58V841.67M1710.94,767.58h5.2M1710.94,841.67h5.2M1718.57,767.65V832.03M1715.97,767.65h5.2M1715.97,832.03h5.2M1723.60,762.39V837.16M1721.00,762.39h5.2M1721.00,837.16h5.2M1728.63,762.20V839.51M1726.03,762.20h5.2M1726.03,839.51h5.2M1733.66,762.96V841.04M1731.06,762.96h5.2M1731.06,841.04h5.2M1738.69,767.13V836.96M1736.09,767.13h5.2M1736.09,836.96h5.2M1743.72,758.54V836.67M1741.12,758.54h5.2M1741.12,836.67h5.2M1748.75,771.33V835.82M1746.15,771.33h5.2M1746.15,835.82h5.2M1753.78,765.17V836.73M1751.18,765.17h5.2M1751.18,836.73h5.2M1758.82,772.89V839.69M1756.22,772.89h5.2M1756.22,839.69h5.2M1763.85,765.29V840.54M1761.25,765.29h5.2M1761.25,840.54h5.2M1768.88,770.19V835.68M1766.28,770.19h5.2M1766.28,835.68h5.2M1773.91,774.76V839.73M1771.31,774.76h5.2M1771.31,839.73h5.2M1778.94,767.87V840.53M1776.34,767.87h5.2M1776.34,840.53h5.2M1783.97,761.17V831.88M1781.37,761.17h5.2M1781.37,831.88h5.2M1789.00,764.01V844.35M1786.40,764.01h5.2M1786.40,844.35h5.2M1794.03,764.92V843.72M1791.43,764.92h5.2M1791.43,843.72h5.2" stroke="#9ebcda" stroke-width="1.3" fill="none" opacity="0.9"/>
<polyline points="1431.80,1003.18 1436.83,1000.91 1441.86,1000.88 1446.89,997.35 1451.92,986.94 1456.95,970.93 1461.99,954.97 1467.02,940.55 1472.05,925.80 1477.08,913.52 1482.11,902.59 1487.14,892.08 1492.17,882.07 1497.20,873.85 1502.23,866.18 1507.26,861.14 1512.30,854.74 1517.33,848.14 1522.36,844.46 1527.39,839.40 1532.42,832.99 1537.45,826.45 1542.48,822.45 1547.51,821.20 1552.54,817.77 1557.58,814.38 1562.61,811.99 1567.64,814.42 1572.67,809.89 1577.70,806.61 1582.73,805.45 1587.76,799.77 1592.79,798.68 1597.82,801.99 1602.85,799.11 1607.88,799.76 1612.92,799.77 1617.95,800.91 1622.98,800.47 1628.01,797.50 1633.04,797.56 1638.07,800.78 1643.10,795.76 1648.13,794.56 1653.16,795.90 1658.19,799.61 1663.23,801.31 1668.26,799.89 1673.29,797.48 1678.32,796.38 1683.35,805.35 1688.38,803.29 1693.41,801.01 1698.44,803.09 1703.47,802.13 1708.50,797.63 1713.54,804.63 1718.57,799.84 1723.60,799.77 1728.63,800.86 1733.66,802.00 1738.69,802.05 1743.72,797.61 1748.75,803.58 1753.78,800.95 1758.82,806.29 1763.85,802.92 1768.88,802.94 1773.91,807.25 1778.94,804.20 1783.97,796.53 1789.00,804.18 1794.03,804.32" fill="none" stroke="#9ebcda" stroke-width="2.0"/>
<circle cx="1431.80" cy="1003.18" r="3.6" fill="#9ebcda"/><circle cx="1436.83" cy="1000.91" r="3.6" fill="#9ebcda"/><circle cx="1441.86" cy="1000.88" r="3.6" fill="#9ebcda"/><circle cx="1446.89" cy="997.35" r="3.6" fill="#9ebcda"/><circle cx="1451.92" cy="986.94" r="3.6" fill="#9ebcda"/><circle cx="1456.95" cy="970.93" r="3.6" fill="#9ebcda"/><circle cx="1461.99" cy="954.97" r="3.6" fill="#9ebcda"/><circle cx="1467.02" cy="940.55" r="3.6" fill="#9ebcda"/><circle cx="1472.05" cy="925.80" r="3.6" fill="#9ebcda"/><circle cx="1477.08" cy="913.52" r="3.6" fill="#9ebcda"/><circle cx="1482.11" cy="902.59" r="3.6" fill="#9ebcda"/><circle cx="1487.14" cy="892.08" r="3.6" fill="#9ebcda"/><circle cx="1492.17" cy="882.07" r="3.6" fill="#9ebcda"/><circle cx="1497.20" cy="873.85" r="3.6" fill="#9ebcda"/><circle cx="1502.23" cy="866.18" r="3.6" fill="#9ebcda"/><circle cx="1507.26" cy="861.14" r="3.6" fill="#9ebcda"/><circle cx="1512.30" cy="854.74" r="3.6" fill="#9ebcda"/><circle cx="1517.33" cy="848.14" r="3.6" fill="#9ebcda"/><circle cx="1522.36" cy="844.46" r="3.6" fill="#9ebcda"/><circle cx="1527.39" cy="839.40" r="3.6" fill="#9ebcda"/><circle cx="1532.42" cy="832.99" r="3.6" fill="#9ebcda"/><circle cx="1537.45" cy="826.45" r="3.6" fill="#9ebcda"/><circle cx="1542.48" cy="822.45" r="3.6" fill="#9ebcda"/><circle cx="1547.51" cy="821.20" r="3.6" fill="#9ebcda"/><circle cx="1552.54" cy="817.77" r="3.6" fill="#9ebcda"/><circle cx="1557.58" cy="814.38" r="3.6" fill="#9ebcda"/><circle cx="1562.61" cy="811.99" r="3.6" fill="#9ebcda"/><circle cx="1567.64" cy="814.42" r="3.6" fill="#9ebcda"/><circle cx="1572.67" cy="809.89" r="3.6" fill="#9ebcda"/><circle cx="1577.70" cy="806.61" r="3.6" fill="#9ebcda"/><circle cx="1582.73" cy="805.45" r="3.6" fill="#9ebcda"/><circle cx="1587.76" cy="799.77" r="3.6" fill="#9ebcda"/><circle cx="1592.79" cy="798.68" r="3.6" fill="#9ebcda"/><circle cx="1597.82" cy="801.99" r="3.6" fill="#9ebcda"/><circle cx="1602.85" cy="799.11" r="3.6" fill="#9ebcda"/><circle cx="1607.88" cy="799.76" r="3.6" fill="#9ebcda"/><circle cx="1612.92" cy="799.77" r="3.6" fill="#9ebcda"/><circle cx="1617.95" cy="800.91" r="3.6" fill="#9ebcda"/><circle cx="1622.98" cy="800.47" r="3.6" fill="#9ebcda"/><circle cx="1628.01" cy="797.50" r="3.6" fill="#9ebcda"/><circle cx="1633.04" cy="797.56" r="3.6" fill="#9ebcda"/><circle cx="1638.07" cy="800.78" r="3.6" fill="#9ebcda"/><circle cx="1643.10" cy="795.76" r="3.6" fill="#9ebcda"/><circle cx="1648.13" cy="794.56" r="3.6" fill="#9ebcda"/><circle cx="1653.16" cy="795.90" r="3.6" fill="#9ebcda"/><circle cx="1658.19" cy="799.61" r="3.6" fill="#9ebcda"/><circle cx="1663.23" cy="801.31" r="3.6" fill="#9ebcda"/><circle cx="1668.26" cy="799.89" r="3.6" fill="#9ebcda"/><circle cx="1673.29" cy="797.48" r="3.6" fill="#9ebcda"/><circle cx="1678.32" cy="796.38" r="3.6" fill="#9ebcda"/><circle cx="1683.35" cy="805.35" r="3.6" fill="#9ebcda"/><circle cx="1688.38" cy="803.29" r="3.6" fill="#9ebcda"/><circle cx="1693.41" cy="801.01" r="3.6" fill="#9ebcda"/><circle cx="1698.44" cy="803.09" r="3.6" fill="#9ebcda"/><circle cx="1703.47" cy="802.13" r="3.6" fill="#9ebcda"/><circle cx="1708.50" cy="797.63" r="3.6" fill="#9ebcda"/><circle cx="1713.54" cy="804.63" r="3.6" fill="#9ebcda"/><circle cx="1718.57" cy="799.84" r="3.6" fill="#9ebcda"/><circle cx="1723.60" cy="799.77" r="3.6" fill="#9ebcda"/><circle cx="1728.63" cy="800.86" r="3.6" fill="#9ebcda"/><circle cx="1733.66" cy="802.00" r="3.6" fill="#9ebcda"/><circle cx="1738.69" cy="802.05" r="3.6" fill="#9ebcda"/><circle cx="1743.72" cy="797.61" r="3.6" fill="#9ebcda"/><circle cx="1748.75" cy="803.58" r="3.6" fill="#9ebcda"/><circle cx="1753.78" cy="800.95" r="3.6" fill="#9ebcda"/><circle cx="1758.82" cy="806.29" r="3.6" fill="#9ebcda"/><circle cx="1763.85" cy="802.92" r="3.6" fill="#9ebcda"/><circle cx="1768.88" cy="802.94" r="3.6" fill="#9ebcda"/><circle cx="1773.91" cy="807.25" r="3.6" fill="#9ebcda"/><circle cx="1778.94" cy="804.20" r="3.6" fill="#9ebcda"/><circle cx="1783.97" cy="796.53" r="3.6" fill="#9ebcda"/><circle cx="1789.00" cy="804.18" r="3.6" fill="#9ebcda"/><circle cx="1794.03" cy="804.32" r="3.6" fill="#9ebcda"/>
<path d="M1008.4,1033.4 V671.7 H1411.4 V1033.4" fill="none" stroke="#666" stroke-width="1.8"/>
<line x1="1008.40" y1="671.70" x2="1008.40" y2="1033.40" stroke="#000" stroke-width="2"/>
<line x1="1007.40" y1="1033.40" x2="1412.40" y2="1033.40" stroke="#000" stroke-width="2"/>
<line x1="1028.90" y1="1033.40" x2="1028.90" y2="1041.40" stroke="#000" stroke-width="1.8"/>
<text x="1028.90" y="1072.50" font-size="29.17" text-anchor="middle">0</text>
<line x1="1129.52" y1="1033.40" x2="1129.52" y2="1041.40" stroke="#000" stroke-width="1.8"/>
<text x="1129.52" y="1072.50" font-size="29.17" text-anchor="middle">300</text>
<line x1="1230.14" y1="1033.40" x2="1230.14" y2="1041.40" stroke="#000" stroke-width="1.8"/>
<text x="1230.14" y="1072.50" font-size="29.17" text-anchor="middle">600</text>
<line x1="1330.76" y1="1033.40" x2="1330.76" y2="1041.40" stroke="#000" stroke-width="1.8"/>
<text x="1330.76" y="1072.50" font-size="29.17" text-anchor="middle">900</text>
<text x="1209.90" y="1109.00" font-size="29.17" text-anchor="middle">Time [min]</text>
<line x1="1000.40" y1="1003.20" x2="1008.40" y2="1003.20" stroke="#000" stroke-width="1.8"/>
<line x1="1000.40" y1="928.10" x2="1008.40" y2="928.10" stroke="#000" stroke-width="1.8"/>
<line x1="1000.40" y1="853.00" x2="1008.40" y2="853.00" stroke="#000" stroke-width="1.8"/>
<line x1="1000.40" y1="777.90" x2="1008.40" y2="777.90" stroke="#000" stroke-width="1.8"/>
<line x1="1000.40" y1="702.80" x2="1008.40" y2="702.80" stroke="#000" stroke-width="1.8"/>
<path d="M1411.4,1033.4 V671.7 H1814.1 V1033.4" fill="none" stroke="#666" stroke-width="1.8"/>
<line x1="1411.40" y1="671.70" x2="1411.40" y2="1033.40" stroke="#000" stroke-width="2"/>
<line x1="1410.40" y1="1033.40" x2="1815.10" y2="1033.40" stroke="#000" stroke-width="2"/>
<line x1="1431.80" y1="1033.40" x2="1431.80" y2="1041.40" stroke="#000" stroke-width="1.8"/>
<text x="1431.80" y="1072.50" font-size="29.17" text-anchor="middle">0</text>
<line x1="1532.42" y1="1033.40" x2="1532.42" y2="1041.40" stroke="#000" stroke-width="1.8"/>
<text x="1532.42" y="1072.50" font-size="29.17" text-anchor="middle">300</text>
<line x1="1633.04" y1="1033.40" x2="1633.04" y2="1041.40" stroke="#000" stroke-width="1.8"/>
<text x="1633.04" y="1072.50" font-size="29.17" text-anchor="middle">600</text>
<line x1="1733.66" y1="1033.40" x2="1733.66" y2="1041.40" stroke="#000" stroke-width="1.8"/>
<text x="1733.66" y="1072.50" font-size="29.17" text-anchor="middle">900</text>
<text x="1612.75" y="1109.00" font-size="29.17" text-anchor="middle">Time [min]</text>
<line x1="1403.40" y1="1003.20" x2="1411.40" y2="1003.20" stroke="#000" stroke-width="1.8"/>
<line x1="1403.40" y1="928.10" x2="1411.40" y2="928.10" stroke="#000" stroke-width="1.8"/>
<line x1="1403.40" y1="853.00" x2="1411.40" y2="853.00" stroke="#000" stroke-width="1.8"/>
<line x1="1403.40" y1="777.90" x2="1411.40" y2="777.90" stroke="#000" stroke-width="1.8"/>
<line x1="1403.40" y1="702.80" x2="1411.40" y2="702.80" stroke="#000" stroke-width="1.8"/>
<text x="990.00" y="1013.60" font-size="29.17" text-anchor="end">0.0</text>
<text x="990.00" y="938.50" font-size="29.17" text-anchor="end">0.1</text>
<text x="990.00" y="863.40" font-size="29.17" text-anchor="end">0.2</text>
<text x="990.00" y="788.30" font-size="29.17" text-anchor="end">0.3</text>
<text x="990.00" y="713.20" font-size="29.17" text-anchor="end">0.4</text>
<text x="1208.00" y="657.50" font-size="29.17" text-anchor="middle">1 µM NADP<tspan dy="-8">+</tspan></text>
<text x="1612.00" y="657.50" font-size="29.17" text-anchor="middle">50 µM NADP<tspan dy="-8">+</tspan></text>
<text x="932.50" y="853.00" font-size="29.17" text-anchor="middle" transform="rotate(-90 932.50 853.00)">Absorbance 340 nm [Arb. units]</text>
<line x1="1821.80" y1="690.00" x2="1880.50" y2="690.00" stroke="#6e016b" stroke-width="2"/>
<circle cx="1850.60" cy="690.00" r="4.2" fill="#6e016b"/>
<text x="1893.00" y="700.40" font-size="29.17">WT</text>
<line x1="1821.80" y1="744.00" x2="1880.50" y2="744.00" stroke="#8c6bb1" stroke-width="2"/>
<circle cx="1850.60" cy="744.00" r="4.2" fill="#8c6bb1"/>
<text x="1893.00" y="754.40" font-size="29.17">AcK89</text>
<line x1="1821.80" y1="798.00" x2="1880.50" y2="798.00" stroke="#9ebcda" stroke-width="2"/>
<circle cx="1850.60" cy="798.00" r="4.2" fill="#9ebcda"/>
<text x="1893.00" y="808.40" font-size="29.17">AcK403</text>
<text x="881.00" y="1225.50" font-size="33.5" font-weight="bold">f</text>
<text x="891.40" y="1317.50" font-size="29.17">kDa</text>
<line x1="891.00" y1="1323.20" x2="943.20" y2="1323.20" stroke="#000" stroke-width="1.9"/>
<text x="1091.40" y="1272.00" font-size="29.17" text-anchor="middle">WT</text>
<line x1="973.20" y1="1279.50" x2="1212.30" y2="1279.50" stroke="#333" stroke-width="1.6"/>
<text x="1412.70" y="1272.00" font-size="29.17" text-anchor="middle">AcK89</text>
<line x1="1285.50" y1="1279.50" x2="1539.50" y2="1279.50" stroke="#333" stroke-width="1.6"/>
<text x="1710.30" y="1272.00" font-size="29.17" text-anchor="middle">AcK403</text>
<line x1="1587.40" y1="1279.50" x2="1831.20" y2="1279.50" stroke="#333" stroke-width="1.6"/>
<text x="990.90" y="1311.40" font-size="29.17" text-anchor="middle">0</text>
<text x="1043.20" y="1311.40" font-size="29.17" text-anchor="middle">5</text>
<text x="1097.00" y="1311.40" font-size="29.17" text-anchor="middle">15</text>
<text x="1150.00" y="1311.40" font-size="29.17" text-anchor="middle">30</text>
<text x="1208.90" y="1311.40" font-size="29.17" text-anchor="middle">60</text>
<text x="1292.70" y="1311.40" font-size="29.17" text-anchor="middle">0</text>
<text x="1346.80" y="1311.40" font-size="29.17" text-anchor="middle">5</text>
<text x="1394.10" y="1311.40" font-size="29.17" text-anchor="middle">15</text>
<text x="1451.80" y="1311.40" font-size="29.17" text-anchor="middle">30</text>
<text x="1511.60" y="1311.40" font-size="29.17" text-anchor="middle">60</text>
<text x="1588.00" y="1311.40" font-size="29.17" text-anchor="middle">0</text>
<text x="1651.20" y="1311.40" font-size="29.17" text-anchor="middle">5</text>
<text x="1710.30" y="1311.40" font-size="29.17" text-anchor="middle">15</text>
<text x="1764.40" y="1311.40" font-size="29.17" text-anchor="middle">30</text>
<text x="1827.10" y="1311.40" font-size="29.17" text-anchor="middle">60</text>
<text x="1868.70" y="1308.60" font-size="29.17">Time (min)</text>
<rect x="947.50" y="1322.90" width="305.70" height="77.50" fill="#dcdcdc"/>
<rect x="1253.20" y="1322.90" width="305.00" height="77.50" fill="#dcdcdc"/>
<rect x="1558.20" y="1322.90" width="305.20" height="77.50" fill="#dfdfdf"/>
<rect x="955.00" y="1367.50" width="62.40" height="27.00" rx="12.27" fill="#3a3a3a" opacity="0.55" filter="url(#b35)"/>
<rect x="960.00" y="1375.58" width="52.40" height="14.85" rx="7.43" fill="#3a3a3a" opacity="0.1925" filter="url(#b25)"/>
<rect x="1016.50" y="1367.50" width="54.30" height="27.00" rx="12.27" fill="#3a3a3a" opacity="0.5" filter="url(#b35)"/>
<rect x="1021.50" y="1375.58" width="44.30" height="14.85" rx="7.43" fill="#3a3a3a" opacity="0.175" filter="url(#b25)"/>
<rect x="1071.00" y="1367.50" width="56.60" height="27.00" rx="12.27" fill="#3a3a3a" opacity="0.5" filter="url(#b35)"/>
<rect x="1076.00" y="1375.58" width="46.60" height="14.85" rx="7.43" fill="#3a3a3a" opacity="0.175" filter="url(#b25)"/>
<rect x="1127.90" y="1367.50" width="56.50" height="27.00" rx="12.27" fill="#3a3a3a" opacity="0.5" filter="url(#b35)"/>
<rect x="1132.90" y="1375.58" width="46.50" height="14.85" rx="7.43" fill="#3a3a3a" opacity="0.175" filter="url(#b25)"/>
<rect x="1184.70" y="1367.50" width="59.90" height="27.00" rx="12.27" fill="#3a3a3a" opacity="0.47" filter="url(#b35)"/>
<rect x="1189.70" y="1375.58" width="49.90" height="14.85" rx="7.43" fill="#3a3a3a" opacity="0.16449999999999998" filter="url(#b25)"/>
<rect x="1259.90" y="1367.50" width="56.10" height="27.00" rx="12.27" fill="#3a3a3a" opacity="0.62" filter="url(#b35)"/>
<rect x="1264.90" y="1375.58" width="46.10" height="14.85" rx="7.43" fill="#3a3a3a" opacity="0.217" filter="url(#b25)"/>
<rect x="1318.50" y="1367.50" width="54.30" height="27.00" rx="12.27" fill="#3a3a3a" opacity="0.66" filter="url(#b35)"/>
<rect x="1323.50" y="1375.58" width="44.30" height="14.85" rx="7.43" fill="#3a3a3a" opacity="0.23099999999999998" filter="url(#b25)"/>
<rect x="1375.40" y="1367.50" width="54.20" height="27.00" rx="12.27" fill="#3a3a3a" opacity="0.72" filter="url(#b35)"/>
<rect x="1380.40" y="1375.58" width="44.20" height="14.85" rx="7.43" fill="#3a3a3a" opacity="0.252" filter="url(#b25)"/>
<rect x="1434.00" y="1370.00" width="53.60" height="22.00" rx="10.00" fill="#3a3a3a" opacity="0.68" filter="url(#b35)"/>
<rect x="1439.00" y="1376.95" width="43.60" height="12.10" rx="6.05" fill="#3a3a3a" opacity="0.238" filter="url(#b25)"/>
<rect x="1492.40" y="1369.00" width="54.30" height="20.00" rx="9.09" fill="#3a3a3a" opacity="0.62" filter="url(#b35)"/>
<rect x="1497.40" y="1375.50" width="44.30" height="11.00" rx="5.50" fill="#3a3a3a" opacity="0.217" filter="url(#b25)"/>
<rect x="1569.80" y="1365.00" width="60.90" height="29.00" rx="13.18" fill="#3a3a3a" opacity="0.42" filter="url(#b35)"/>
<rect x="1574.80" y="1373.53" width="50.90" height="15.95" rx="7.98" fill="#3a3a3a" opacity="0.147" filter="url(#b25)"/>
<rect x="1633.80" y="1366.50" width="53.20" height="25.00" rx="11.36" fill="#3a3a3a" opacity="0.34" filter="url(#b35)"/>
<rect x="1638.80" y="1374.12" width="43.20" height="13.75" rx="6.88" fill="#3a3a3a" opacity="0.119" filter="url(#b25)"/>
<rect x="1689.30" y="1368.50" width="53.00" height="22.00" rx="10.00" fill="#3a3a3a" opacity="0.33" filter="url(#b35)"/>
<rect x="1694.30" y="1375.45" width="43.00" height="12.10" rx="6.05" fill="#3a3a3a" opacity="0.11549999999999999" filter="url(#b25)"/>
<rect x="1746.40" y="1370.00" width="52.20" height="20.00" rx="9.09" fill="#3a3a3a" opacity="0.3" filter="url(#b35)"/>
<rect x="1751.40" y="1376.50" width="42.20" height="11.00" rx="5.50" fill="#3a3a3a" opacity="0.105" filter="url(#b25)"/>
<rect x="1805.30" y="1374.00" width="52.20" height="17.00" rx="7.73" fill="#3a3a3a" opacity="0.26" filter="url(#b35)"/>
<rect x="1810.30" y="1379.83" width="42.20" height="9.35" rx="4.68" fill="#3a3a3a" opacity="0.091" filter="url(#b25)"/>
<line x1="1253.20" y1="1322.90" x2="1253.20" y2="1400.40" stroke="#222" stroke-width="1.4"/>
<line x1="1558.20" y1="1322.90" x2="1558.20" y2="1400.40" stroke="#222" stroke-width="1.4"/>
<rect x="947.50" y="1322.90" width="915.90" height="77.50" fill="none" stroke="#222" stroke-width="1.6"/>
<text x="936.80" y="1375.00" font-size="29.17" text-anchor="end">60</text>
<line x1="939.50" y1="1367.50" x2="947.50" y2="1367.50" stroke="#000" stroke-width="1.8"/>
<text x="1866.70" y="1369.10" font-size="29.17">IB: His</text>
<path d="M1011,1441.5 L1244,1424 L1244,1441.5 Z" fill="#000"/>
<line x1="978.00" y1="1439.00" x2="987.00" y2="1439.00" stroke="#000" stroke-width="2.6"/>
<path d="M1315,1439 L1549,1421.5 L1549,1439 Z" fill="#000"/>
<line x1="1281.50" y1="1437.50" x2="1290.50" y2="1437.50" stroke="#000" stroke-width="2.6"/>
<path d="M1625,1443 L1858,1426.6 L1858,1443 Z" fill="#000"/>
<line x1="1587.50" y1="1442.50" x2="1596.50" y2="1442.50" stroke="#000" stroke-width="2.6"/>
<text x="1868.30" y="1437.00" font-size="29.17">Chy</text>
<rect x="947.50" y="1451.40" width="305.70" height="77.10" fill="#dfdfdf"/>
<rect x="1253.20" y="1451.40" width="305.00" height="77.10" fill="#f5f5f5"/>
<rect x="1558.20" y="1451.40" width="305.20" height="77.10" fill="#dedede"/>
<rect x="958.00" y="1469.30" width="61.00" height="34.00" rx="8.00" fill="#000" opacity="1.0" filter="url(#b16)"/>
<rect x="1019.70" y="1474.50" width="54.50" height="34.00" rx="8.00" fill="#000" opacity="1.0" filter="url(#b16)"/>
<rect x="1076.80" y="1481.10" width="50.20" height="19.00" rx="8.00" fill="#000" opacity="1.0" filter="url(#b16)"/>
<rect x="1132.20" y="1482.20" width="48.50" height="16.00" rx="8.00" fill="#000" opacity="1.0" filter="url(#b16)"/>
<rect x="1190.20" y="1482.50" width="47.60" height="13.00" rx="6.50" fill="#000" opacity="0.95" filter="url(#b16)"/>
<rect x="1265.60" y="1480.70" width="54.50" height="26.00" rx="8.00" fill="#000" opacity="0.87" filter="url(#b32)"/>
<rect x="1327.00" y="1485.20" width="48.50" height="17.00" rx="8.00" fill="#000" opacity="0.85" filter="url(#b28)"/>
<rect x="1384.20" y="1485.20" width="47.60" height="13.00" rx="6.50" fill="#000" opacity="0.85" filter="url(#b25)"/>
<rect x="1444.00" y="1485.40" width="43.20" height="8.00" rx="4.00" fill="#000" opacity="0.3" filter="url(#b25)"/>
<rect x="1500.00" y="1485.50" width="45.00" height="7.00" rx="3.50" fill="#000" opacity="0.04" filter="url(#b25)"/>
<rect x="1576.00" y="1481.50" width="56.30" height="26.00" rx="8.00" fill="#000" opacity="1.0" filter="url(#b18)"/>
<rect x="1636.60" y="1483.40" width="48.40" height="12.00" rx="6.00" fill="#000" opacity="1.0" filter="url(#b16)"/>
<rect x="1693.70" y="1484.10" width="43.30" height="7.00" rx="3.50" fill="#000" opacity="0.28" filter="url(#b22)"/>
<rect x="1081.00" y="1505.50" width="14.00" height="7.00" rx="3.50" fill="#000" opacity="0.22" filter="url(#b25)"/>
<rect x="1110.00" y="1505.50" width="14.00" height="7.00" rx="3.50" fill="#000" opacity="0.2" filter="url(#b25)"/>
<rect x="1134.00" y="1505.00" width="12.00" height="6.00" rx="3.00" fill="#000" opacity="0.12" filter="url(#b25)"/>
<rect x="1164.00" y="1505.00" width="12.00" height="6.00" rx="3.00" fill="#000" opacity="0.12" filter="url(#b25)"/>
<rect x="1030.00" y="1501.00" width="15.00" height="8.00" rx="4.00" fill="#000" opacity="0.6" filter="url(#b22)"/>
<rect x="1055.00" y="1501.00" width="13.00" height="8.00" rx="4.00" fill="#000" opacity="0.6" filter="url(#b22)"/>
<rect x="1270.00" y="1498.00" width="45.00" height="10.00" rx="5.00" fill="#000" opacity="0.35" filter="url(#b40)"/>
<line x1="1253.20" y1="1451.40" x2="1253.20" y2="1528.50" stroke="#222" stroke-width="1.4"/>
<line x1="1558.20" y1="1451.40" x2="1558.20" y2="1528.50" stroke="#222" stroke-width="1.4"/>
<rect x="947.50" y="1451.40" width="915.90" height="77.10" fill="none" stroke="#222" stroke-width="1.6"/>
<text x="936.80" y="1472.50" font-size="29.17" text-anchor="end">60</text>
<line x1="939.50" y1="1465.00" x2="947.50" y2="1465.00" stroke="#000" stroke-width="1.8"/>
<text x="1866.70" y="1498.30" font-size="29.17">IB: His</text>
<text x="883.50" y="1677.30" font-size="33.5" font-weight="bold">g</text>
<path d="M1046.36,1765.76 C1055.45,1766.62 1084.24,1769.29 1100.91,1770.91 C1117.58,1772.53 1133.74,1774.34 1146.36,1775.45 C1158.99,1776.57 1166.57,1777.07 1176.67,1777.58 C1186.77,1778.08 1196.87,1778.08 1206.97,1778.48 C1217.07,1778.89 1227.17,1779.24 1237.27,1780.00 C1247.37,1780.76 1257.47,1781.77 1267.58,1783.03 C1277.68,1784.29 1287.78,1786.16 1297.88,1787.58 C1307.98,1788.99 1316.97,1790.66 1328.18,1791.52 C1339.39,1792.37 1355.05,1792.63 1365.15,1792.73 C1375.25,1792.83 1379.80,1792.73 1388.79,1792.12 C1397.78,1791.52 1408.99,1790.35 1419.09,1789.09 C1429.19,1787.83 1439.29,1785.96 1449.39,1784.55 C1459.49,1783.13 1467.58,1781.87 1479.70,1780.61 C1491.82,1779.34 1515.05,1777.58 1522.12,1776.97" fill="none" stroke="#d95f02" stroke-width="2.6"/>
<path d="M1207.00,1733.76V1822.88M1200.50,1733.76h13M1200.50,1822.88h13" stroke="#d95f02" stroke-width="2" fill="none"/>
<path d="M1365.20,1760.84V1825.26M1358.70,1760.84h13M1358.70,1825.26h13" stroke="#d95f02" stroke-width="2" fill="none"/>
<path d="M1522.10,1736.87V1816.84M1515.60,1736.87h13M1515.60,1816.84h13" stroke="#d95f02" stroke-width="2" fill="none"/>
<path d="M1046.40,1761.10 L1050.90,1769.10 L1041.90,1769.10 Z" fill="#d95f02"/>
<path d="M1207.00,1773.91 L1211.50,1781.91 L1202.50,1781.91 Z" fill="#d95f02"/>
<path d="M1365.20,1787.45 L1369.70,1795.45 L1360.70,1795.45 Z" fill="#d95f02"/>
<path d="M1522.10,1772.26 L1526.60,1780.26 L1517.60,1780.26 Z" fill="#d95f02"/>
<path d="M1046.36,1765.76 C1055.45,1765.71 1084.24,1765.61 1100.91,1765.45 C1117.58,1765.30 1128.18,1765.05 1146.36,1764.85 C1164.55,1764.65 1192.32,1764.24 1210.00,1764.24 C1227.68,1764.24 1237.78,1764.49 1252.42,1764.85 C1267.07,1765.20 1282.73,1765.91 1297.88,1766.36 C1313.03,1766.82 1331.57,1767.42 1343.33,1767.58 C1355.10,1767.73 1358.38,1767.73 1368.48,1767.27 C1378.59,1766.82 1390.45,1766.01 1403.94,1764.85 C1417.42,1763.69 1434.24,1761.82 1449.39,1760.30 C1464.55,1758.79 1482.07,1756.92 1494.85,1755.76 C1507.63,1754.60 1520.86,1753.74 1526.06,1753.33" fill="none" stroke="#7570b3" stroke-width="2.6"/>
<path d="M1210.00,1733.76V1795.06M1203.50,1733.76h13M1203.50,1795.06h13" stroke="#7570b3" stroke-width="2" fill="none"/>
<path d="M1368.50,1741.08V1794.33M1362.00,1741.08h13M1362.00,1794.33h13" stroke="#7570b3" stroke-width="2" fill="none"/>
<path d="M1526.00,1723.69V1782.80M1519.50,1723.69h13M1519.50,1782.80h13" stroke="#7570b3" stroke-width="2" fill="none"/>
<rect x="1042.90" y="1762.10" width="7.00" height="7.00" fill="#7570b3"/>
<rect x="1206.50" y="1760.45" width="7.00" height="7.00" fill="#7570b3"/>
<rect x="1365.00" y="1763.56" width="7.00" height="7.00" fill="#7570b3"/>
<rect x="1522.50" y="1749.66" width="7.00" height="7.00" fill="#7570b3"/>
<path d="M1046.36,1765.76 C1050.40,1766.62 1061.52,1768.54 1070.61,1770.91 C1079.70,1773.28 1090.81,1777.22 1100.91,1780.00 C1111.01,1782.78 1121.11,1785.30 1131.21,1787.58 C1141.31,1789.85 1151.41,1792.07 1161.52,1793.64 C1171.62,1795.20 1183.13,1796.31 1191.82,1796.97 C1200.51,1797.63 1206.06,1797.63 1213.64,1797.58 C1221.21,1797.53 1228.28,1797.17 1237.27,1796.67 C1246.26,1796.16 1257.47,1795.30 1267.58,1794.55 C1277.68,1793.79 1287.78,1792.88 1297.88,1792.12 C1307.98,1791.36 1316.06,1790.61 1328.18,1790.00 C1340.30,1789.39 1357.98,1789.39 1370.61,1788.48 C1383.23,1787.58 1393.33,1785.96 1403.94,1784.55 C1414.55,1783.13 1424.14,1781.52 1434.24,1780.00 C1444.34,1778.48 1454.44,1776.72 1464.55,1775.45 C1474.65,1774.19 1483.99,1773.18 1494.85,1772.42 C1505.71,1771.67 1523.89,1771.16 1529.70,1770.91" fill="none" stroke="#e7298a" stroke-width="2.6"/>
<path d="M1048.00,1762.86V1768.34M1041.50,1762.86h13M1041.50,1768.34h13" stroke="#e7298a" stroke-width="2" fill="none"/>
<path d="M1213.60,1789.57V1805.68M1207.10,1789.57h13M1207.10,1805.68h13" stroke="#e7298a" stroke-width="2" fill="none"/>
<path d="M1370.60,1780.06V1797.62M1364.10,1780.06h13M1364.10,1797.62h13" stroke="#e7298a" stroke-width="2" fill="none"/>
<path d="M1529.70,1749.68V1792.68M1523.20,1749.68h13M1523.20,1792.68h13" stroke="#e7298a" stroke-width="2" fill="none"/>
<path d="M1048.00,1759.60V1771.60M1042.00,1765.60h12" stroke="#e7298a" stroke-width="2.2"/>
<path d="M1213.60,1790.71V1802.71M1207.60,1796.71h12" stroke="#e7298a" stroke-width="2.2"/>
<path d="M1370.60,1782.47V1794.47M1364.60,1788.47h12" stroke="#e7298a" stroke-width="2.2"/>
<path d="M1529.70,1764.72V1776.72M1523.70,1770.72h12" stroke="#e7298a" stroke-width="2.2"/>
<path d="M1046.36,1765.76 C1050.40,1766.87 1061.52,1769.55 1070.61,1772.42 C1079.70,1775.30 1090.81,1779.24 1100.91,1783.03 C1111.01,1786.82 1121.11,1790.61 1131.21,1795.15 C1141.31,1799.70 1153.43,1806.77 1161.52,1810.30 C1169.60,1813.84 1172.63,1814.75 1179.70,1816.36 C1186.77,1817.98 1196.87,1819.04 1203.94,1820.00 C1211.01,1820.96 1216.06,1821.21 1222.12,1822.12 C1228.18,1823.03 1233.74,1823.89 1240.30,1825.45 C1246.87,1827.02 1254.44,1828.99 1261.52,1831.52 C1268.59,1834.04 1275.15,1837.58 1282.73,1840.61 C1290.30,1843.64 1299.39,1846.92 1306.97,1849.70 C1314.55,1852.47 1322.12,1855.25 1328.18,1857.27 C1334.24,1859.29 1337.68,1860.45 1343.33,1861.82 C1348.99,1863.18 1355.56,1864.55 1362.12,1865.45 C1368.69,1866.36 1375.76,1866.87 1382.73,1867.27 C1389.70,1867.68 1396.36,1867.93 1403.94,1867.88 C1411.52,1867.83 1420.61,1867.47 1428.18,1866.97 C1435.76,1866.46 1440.81,1865.96 1449.39,1864.85 C1457.98,1863.74 1467.83,1862.42 1479.70,1860.30 C1491.57,1858.18 1513.79,1853.48 1520.61,1852.12" fill="none" stroke="#1b9e77" stroke-width="2.6"/>
<path d="M1203.90,1802.38V1838.25M1197.40,1802.38h13M1197.40,1838.25h13" stroke="#1b9e77" stroke-width="2" fill="none"/>
<path d="M1362.10,1841.91V1888.94M1355.60,1841.91h13M1355.60,1888.94h13" stroke="#1b9e77" stroke-width="2" fill="none"/>
<path d="M1520.60,1830.38V1872.11M1514.10,1830.38h13M1514.10,1872.11h13" stroke="#1b9e77" stroke-width="2" fill="none"/>
<circle cx="1044.00" cy="1765.60" r="3.8" fill="#1b9e77"/>
<circle cx="1203.90" cy="1819.59" r="3.8" fill="#1b9e77"/>
<circle cx="1362.10" cy="1865.33" r="3.8" fill="#1b9e77"/>
<circle cx="1520.60" cy="1851.98" r="3.8" fill="#1b9e77"/>
<rect x="1014.50" y="1686.80" width="546.10" height="261.60" fill="none" stroke="#000" stroke-width="2"/>
<line x1="1005.50" y1="1765.60" x2="1014.50" y2="1765.60" stroke="#000" stroke-width="1.8"/>
<text x="996.00" y="1776.00" font-size="29.17" text-anchor="end">1.0</text>
<line x1="1005.50" y1="1857.10" x2="1014.50" y2="1857.10" stroke="#000" stroke-width="1.8"/>
<text x="996.00" y="1867.50" font-size="29.17" text-anchor="end">0.5</text>
<line x1="1005.50" y1="1948.60" x2="1014.50" y2="1948.60" stroke="#000" stroke-width="1.8"/>
<text x="996.00" y="1959.00" font-size="29.17" text-anchor="end">0.0</text>
<line x1="1005.50" y1="1948.40" x2="1560.60" y2="1948.40" stroke="#000" stroke-width="2"/>
<line x1="1050.30" y1="1948.40" x2="1050.30" y2="1956.40" stroke="#000" stroke-width="1.8"/>
<text x="1050.30" y="1987.00" font-size="29.17" text-anchor="middle">0</text>
<line x1="1208.50" y1="1948.40" x2="1208.50" y2="1956.40" stroke="#000" stroke-width="1.8"/>
<text x="1208.50" y="1987.00" font-size="29.17" text-anchor="middle">12</text>
<line x1="1366.70" y1="1948.40" x2="1366.70" y2="1956.40" stroke="#000" stroke-width="1.8"/>
<text x="1366.70" y="1987.00" font-size="29.17" text-anchor="middle">24</text>
<line x1="1524.50" y1="1948.40" x2="1524.50" y2="1956.40" stroke="#000" stroke-width="1.8"/>
<text x="1524.50" y="1987.00" font-size="29.17" text-anchor="middle">36</text>
<text x="1287.50" y="2028.50" font-size="29.17" text-anchor="middle">Time post CHX [h]</text>
<text x="939.00" y="1818.50" font-size="29.17" text-anchor="middle" transform="rotate(-90 939.00 1818.50)">Relative G6PD level</text>
<line x1="1569.00" y1="1697.50" x2="1625.00" y2="1697.50" stroke="#e7298a" stroke-width="2.6"/>
<path d="M1597.00,1691.50V1703.50" stroke="#e7298a" stroke-width="2.2"/>
<text x="1633.50" y="1707.90" font-size="29.17">WT</text>
<line x1="1569.00" y1="1747.50" x2="1625.00" y2="1747.50" stroke="#7570b3" stroke-width="2.6"/>
<rect x="1593.50" y="1744.00" width="7.00" height="7.00" fill="#7570b3"/>
<text x="1633.50" y="1755.20" font-size="29.17">pWT</text>
<line x1="1569.00" y1="1799.00" x2="1625.00" y2="1799.00" stroke="#d95f02" stroke-width="2.6"/>
<path d="M1597.00,1794.50 L1601.50,1802.50 L1592.50,1802.50 Z" fill="#d95f02"/>
<text x="1633.50" y="1809.40" font-size="29.17">AcK89</text>
<line x1="1569.00" y1="1845.00" x2="1625.00" y2="1845.00" stroke="#1b9e77" stroke-width="2.6"/>
<circle cx="1597.00" cy="1845.00" r="3.8" fill="#1b9e77"/>
<text x="1633.50" y="1855.40" font-size="29.17">AcK403</text>
</svg></body></html>
